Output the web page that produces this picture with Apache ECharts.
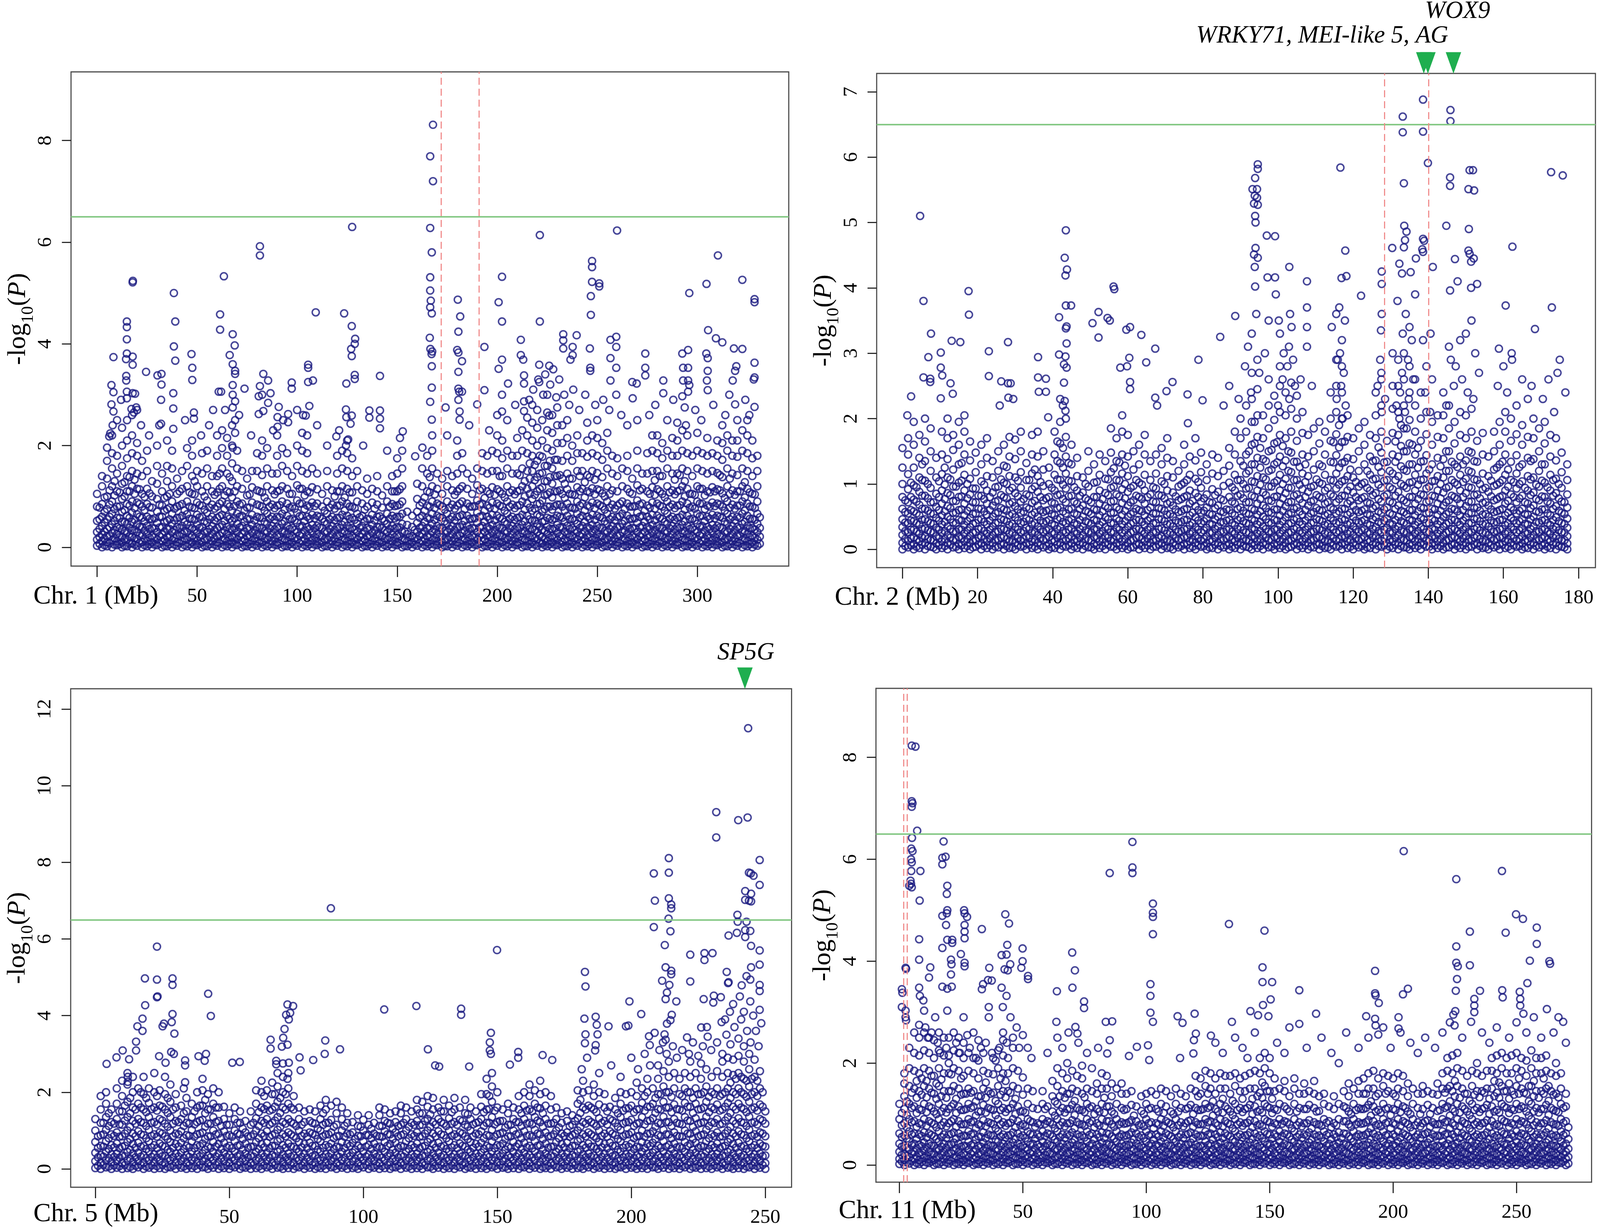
<!DOCTYPE html>
<html><head><meta charset="utf-8">
<script src="https://cdn.jsdelivr.net/npm/echarts@6/dist/echarts.min.js"></script>
<style>html,body{margin:0;padding:0;background:#fff;overflow:hidden}#c{width:100vw;height:100vh}</style>
</head><body><div id="c"></div>
<script>
// ---------- DATA (position in Mb, -log10(P)) ----------
// background columns: [position, value, value, ...]
const chr1Cols = [
[0,.03,.15,.3,.52,.8,1.05],[2.5,0,.12,.25,.42,.6,.85,1.2,1.4],[5,.02,.1,.22,.36,.55,.75,1.0,1.35,1.7,1.96],[7.5,0,.14,.28,.45,.66,.9,1.2,1.55,1.85,2.2],
[10,.04,.12,.26,.4,.58,.8,1.1,1.45,1.8],[12.5,0,.1,.2,.35,.5,.7,.95,1.25,1.6,2.0,2.35],[15,.02,.15,.3,.46,.62,.85,1.1,1.4,1.75,2.1,2.5],[17.5,0,.08,.2,.33,.5,.68,.9,1.2,1.5,1.85,2.2,2.6],
[20,.03,.16,.3,.45,.65,.88,1.15,1.45,1.8,2.05],[22.5,0,.1,.24,.4,.58,.8,1.05,1.4,1.7],[25,.02,.12,.26,.42,.6,.85,1.15,1.5,1.9],[27.5,0,.1,.22,.38,.55,.78,1.0,1.3],
[30,.04,.15,.3,.48,.7,.95,1.25,1.6,2.0],[32.5,0,.12,.25,.4,.6,.82,1.1,1.45],[35,.02,.1,.2,.36,.52,.75,1.0,1.3,1.6],[37.5,0,.14,.3,.46,.66,.9,1.2,1.55,1.9],
[40,.03,.1,.24,.4,.58,.8,1.05,1.35],[42.5,0,.12,.26,.42,.62,.85,1.15,1.5],[45,.02,.15,.3,.45,.65,.9,1.2,1.6,1.95],[47.5,0,.1,.22,.38,.56,.78,1.05,1.4,1.8,2.1],
[50,.04,.13,.28,.44,.64,.88,1.2,1.5],[52.5,0,.1,.24,.4,.6,.82,1.1,1.45,1.85],[55,.02,.15,.3,.48,.68,.92,1.2,1.55,1.9],[57.5,0,.12,.26,.42,.6,.84,1.1,1.4],
[60,.03,.1,.22,.38,.58,.8,1.08,1.4,1.8,2.2],[62.5,0,.14,.28,.44,.64,.9,1.2,1.55,1.95,2.3],[65,.02,.12,.26,.4,.6,.85,1.1,1.45,1.8,2.15],[67.5,0,.1,.2,.35,.52,.72,.98,1.3,1.65,2.0,2.4],
[70,.04,.15,.3,.46,.66,.9,1.2,1.55,1.9],[72.5,0,.12,.26,.42,.62,.86,1.15,1.5],[75,.02,.1,.22,.38,.56,.78,1.02,1.35],[77.5,0,.13,.28,.44,.64,.88,1.18,1.5],
[80,.03,.12,.25,.4,.6,.84,1.12,1.5,1.85],[82.5,0,.1,.22,.38,.58,.8,1.08,1.42,1.8,2.1],[85,.02,.15,.3,.46,.66,.9,1.2,1.55,1.95],[87.5,0,.12,.26,.42,.6,.84,1.12,1.45],
[90,.04,.1,.24,.4,.6,.82,1.1,1.45,1.8,2.2],[92.5,0,.14,.3,.46,.66,.9,1.2,1.6,1.95],[95,.02,.12,.26,.42,.62,.86,1.15,1.5,1.85],[97.5,0,.1,.22,.38,.56,.8,1.05,1.4],
[100,.03,.15,.3,.48,.68,.92,1.22,1.6,2.0],[102.5,0,.12,.26,.42,.62,.86,1.15,1.5,1.9,2.25],[105,.02,.1,.24,.4,.6,.82,1.1,1.45,1.85,2.2],[107.5,0,.13,.28,.44,.64,.88,1.18,1.55],
[110,.04,.12,.26,.42,.62,.86,1.14,1.45],[112.5,0,.1,.22,.38,.56,.8,1.05],[115,.02,.15,.3,.46,.66,.9,1.2,1.5],[117.5,0,.12,.26,.42,.6,.84,1.12],
[120,.03,.1,.24,.4,.58,.82,1.1,1.45,1.8],[122.5,0,.14,.28,.44,.64,.9,1.2,1.55,1.9],[125,.02,.12,.26,.42,.62,.86,1.15,1.5,1.85,2.1],[127.5,0,.1,.22,.38,.58,.8,1.08,1.4,1.75],
[130,.04,.15,.3,.46,.66,.9,1.2,1.5],[132.5,0,.12,.26,.42,.62,.86,1.12],[135,.02,.1,.22,.38,.56,.8,1.05,1.35],[137.5,0,.13,.28,.44,.64,.88,1.15],
[140,.03,.12,.25,.4,.6,.84,1.1,1.4],[142.5,0,.1,.22,.38,.56,.78,1.02],[145,.02,.15,.3,.46,.66,.9,1.2],[147.5,0,.12,.26,.42,.62,.85,1.1,1.4],
[150,.04,.1,.24,.4,.6,.82,1.1,1.45,1.75],[152.5,0,.14,.3,.46,.66,.9,1.2,1.55,1.9],[155,.02,.12,.26,.44,.7],[157.5,0,.1,.22,.4,.62],
[160,.03,.15,.3,.48,.7,.95,1.25],[162.5,0,.12,.26,.42,.62,.88,1.2,1.55],[165,.02,.1,.22,.38,.58,.82,1.1,1.45,1.8],[167.5,0,.14,.3,.46,.66,.9,1.2,1.55,1.9,2.2],
[170,.04,.12,.26,.42,.62,.86,1.15,1.45],[172.5,0,.1,.22,.38,.58,.8,1.05,1.35],[175,.02,.15,.3,.46,.66,.9,1.2,1.5],[177.5,0,.12,.26,.42,.6,.84,1.12,1.4],
[180,.03,.1,.24,.4,.6,.82,1.1,1.45,1.8,2.1],[182.5,0,.14,.28,.44,.64,.9,1.2,1.55,1.85],[185,.02,.12,.26,.42,.62,.86,1.15,1.45],[187.5,0,.1,.22,.38,.56,.8,1.05,1.35],
[190,.04,.15,.3,.48,.68,.92,1.22,1.55],[192.5,0,.12,.26,.42,.62,.86,1.15,1.5,1.85],[195,.02,.1,.24,.4,.6,.82,1.1,1.45,1.8],[197.5,0,.13,.28,.44,.64,.88,1.18,1.5,1.9],
[200,.03,.12,.26,.42,.62,.86,1.14,1.5,1.85,2.2],[202.5,0,.1,.22,.38,.56,.8,1.05,1.4,1.75,2.1],[205,.02,.15,.3,.46,.66,.9,1.2,1.55,1.9],[207.5,0,.12,.26,.42,.6,.84,1.12,1.45,1.8],
[210,.04,.1,.24,.4,.58,.82,1.1,1.45,1.8,2.15],[212.5,0,.14,.28,.44,.64,.9,1.2,1.55,1.9,2.3],[215,.02,.12,.26,.42,.62,.86,1.15,1.5,1.85,2.2,2.55],[217.5,0,.1,.22,.36,.52,.72,.95,1.2,1.5,1.8,2.1,2.45,2.8],
[220,.03,.15,.3,.46,.64,.85,1.1,1.38,1.7,2.0,2.35,2.7],[222.5,0,.08,.2,.34,.5,.7,.92,1.18,1.46,1.78,2.1,2.5],[225,.02,.12,.26,.4,.58,.8,1.04,1.3,1.6,1.95,2.3,2.65,3.0],[227.5,0,.1,.22,.36,.54,.74,.98,1.25,1.55,1.9,2.25,2.6],
[230,.04,.14,.28,.44,.62,.84,1.1,1.4,1.72,2.05,2.4,2.75],[232.5,0,.1,.24,.4,.58,.8,1.05,1.35,1.7,2.05,2.4],[235,.02,.12,.26,.42,.62,.86,1.14,1.45,1.8,2.15,2.5],[237.5,0,.1,.22,.38,.56,.78,1.04,1.35,1.7,2.0],
[240,.03,.15,.3,.46,.66,.9,1.18,1.5,1.85,2.2],[242.5,0,.12,.26,.42,.62,.86,1.15,1.5,1.85],[245,.02,.1,.24,.4,.6,.82,1.1,1.42,1.78,2.1,2.45],[247.5,0,.14,.28,.44,.64,.88,1.16,1.5,1.85,2.2],
[250,.04,.12,.26,.42,.62,.86,1.14,1.46,1.8,2.15,2.5],[252.5,0,.1,.22,.38,.58,.8,1.06,1.38,1.72,2.05],[255,.02,.15,.3,.46,.66,.9,1.2,1.55,1.9,2.25],[257.5,0,.12,.26,.42,.6,.84,1.12,1.45,1.8],
[260,.03,.1,.24,.4,.6,.82,1.1,1.4,1.75],[262.5,0,.14,.3,.46,.66,.9,1.2,1.55],[265,.02,.12,.26,.42,.62,.86,1.15,1.5,1.8],[267.5,0,.1,.22,.38,.56,.8,1.05,1.35],
[270,.04,.15,.3,.48,.68,.92,1.22,1.55,1.9],[272.5,0,.12,.26,.42,.62,.86,1.15,1.45],[275,.02,.1,.24,.4,.6,.82,1.1,1.45,1.85],[277.5,0,.13,.28,.44,.64,.88,1.18,1.5,1.9,2.2],
[280,.03,.12,.26,.42,.62,.86,1.14,1.5,1.85,2.2],[282.5,0,.1,.22,.38,.56,.8,1.05,1.4,1.75,2.05],[285,.02,.15,.3,.46,.66,.9,1.2,1.55,1.9],[287.5,0,.12,.26,.42,.6,.84,1.12,1.45,1.8,2.15],
[290,.04,.1,.24,.4,.58,.82,1.1,1.45,1.8,2.1,2.45],[292.5,0,.14,.28,.44,.64,.9,1.2,1.55,1.9,2.3],[295,.02,.12,.26,.42,.62,.86,1.15,1.5,1.85,2.2],[297.5,0,.1,.22,.38,.56,.8,1.05,1.4,1.8],
[300,.03,.15,.3,.46,.66,.9,1.2,1.55,1.9,2.25],[302.5,0,.12,.26,.42,.62,.86,1.15,1.5,1.85],[305,.02,.1,.24,.4,.6,.82,1.1,1.45,1.8,2.15],[307.5,0,.13,.28,.44,.64,.88,1.18,1.5,1.85],
[310,.04,.12,.26,.42,.62,.86,1.14,1.46,1.8,2.1],[312.5,0,.1,.22,.38,.58,.8,1.06,1.38,1.72,2.05,2.4],[315,.02,.15,.3,.46,.66,.9,1.2,1.55,1.9,2.2],[317.5,0,.12,.26,.42,.6,.84,1.12,1.45,1.8,2.1],
[320,.03,.1,.24,.4,.6,.82,1.1,1.42,1.78,2.1],[322.5,0,.14,.3,.46,.66,.9,1.2,1.55,1.9,2.3],[325,.02,.12,.26,.42,.62,.86,1.15,1.5,1.85,2.2,2.5],[327.5,0,.1,.22,.38,.56,.8,1.05,1.4,1.75,2.1],
[330,.03,.15,.3,.46,.66,.9,1.2,1.5,1.8]
];
const chr1Fill = [
[1.25,.07,.2,.36,.55,.78],[3.75,.04,.17,.31,.49,.7,.98],[6.25,.08,.22,.39,.6,.84,1.12],[8.75,.05,.18,.34,.52,.75,1.02,1.3],[11.25,.06,.2,.37,.57,.8,1.08],[13.75,.03,.16,.32,.5,.73,1.0,1.28],
[16.25,.07,.21,.38,.58,.82,1.1,1.38],[18.75,.05,.18,.35,.54,.77,1.05,1.33],[21.25,.08,.23,.4,.6,.85,1.14],[23.75,.04,.17,.33,.51,.73,.99],[26.25,.06,.19,.36,.56,.79,1.06],[28.75,.05,.2,.37,.57],
[31.25,.07,.22,.39,.6,.84],[33.75,.03,.16,.31,.5,.72,.97],[36.25,.06,.2,.36,.55,.78,1.05],[38.75,.05,.18,.34,.53,.76],[41.25,.08,.22,.38,.58,.82,1.1],[43.75,.04,.17,.32,.5,.72],
[46.25,.06,.2,.37,.56,.8,1.08],[48.75,.05,.19,.35,.54,.77,1.04,1.3],[51.25,.07,.21,.38,.59,.83],[53.75,.03,.16,.32,.51,.74,1.0],[56.25,.06,.2,.36,.55,.78],[58.75,.05,.18,.34,.53,.76,1.03],
[61.25,.08,.23,.4,.61,.86,1.15,1.45],[63.75,.04,.17,.33,.52,.75,1.02],[66.25,.06,.19,.36,.56,.8,1.08,1.38],[68.75,.05,.2,.37,.57,.81,1.1],[71.25,.07,.22,.39,.6,.84],[73.75,.03,.16,.31,.5,.72],
[76.25,.06,.2,.36,.55,.78,1.04],[78.75,.05,.18,.34,.53],[81.25,.08,.22,.38,.58,.82,1.1],[83.75,.04,.17,.32,.5,.72,.98],[86.25,.06,.2,.37,.56,.8],[88.75,.05,.19,.35,.54,.77,1.04],
[91.25,.07,.21,.38,.59,.83,1.12],[93.75,.03,.16,.32,.51,.74],[96.25,.06,.2,.36,.55,.78,1.05],[98.75,.05,.18,.34,.53,.76],[101.25,.08,.23,.4,.61,.86,1.15],[103.75,.04,.17,.33,.52,.75,1.02],
[106.25,.06,.19,.36,.56,.8,1.08],[108.75,.05,.2,.37,.57,.81],[111.25,.07,.22,.39,.6],[113.75,.03,.16,.31,.5,.72],[116.25,.06,.2,.36,.55,.78],[118.75,.05,.18,.34,.53,.76,1.0],
[121.25,.08,.22,.38,.58,.82,1.1],[123.75,.04,.17,.32,.5,.72,.98],[126.25,.06,.2,.37,.56,.8,1.08],[128.75,.05,.19,.35,.54,.77],[131.25,.07,.21,.38,.59],[133.75,.03,.16,.32,.51,.74],
[136.25,.06,.2,.36,.55],[138.75,.05,.18,.34,.53,.76],[141.25,.08,.23,.4,.61],[143.75,.04,.17,.33,.52],[146.25,.06,.19,.36,.56,.8],[148.75,.05,.2,.37,.57,.81,1.1],
[151.25,.07,.22,.39,.6,.84,1.14],[153.75,.03,.16,.31],[156.25,.06,.2],[158.75,.05,.18,.34],[161.25,.08,.22,.38,.58,.82],[163.75,.04,.17,.32,.5,.72,.98],
[166.25,.06,.2,.37,.56,.8,1.08,1.38],[168.75,.05,.19,.35,.54,.77,1.04],[171.25,.07,.21,.38,.59,.83],[173.75,.03,.16,.32,.51,.74],[176.25,.06,.2,.36,.55,.78],[178.75,.05,.18,.34,.53,.76,1.03],
[181.25,.08,.23,.4,.61,.86,1.15],[183.75,.04,.17,.33,.52,.75],[186.25,.06,.19,.36,.56,.8],[188.75,.05,.2,.37,.57,.81],[191.25,.07,.22,.39,.6,.84,1.12],[193.75,.03,.16,.31,.5,.72,.97],
[196.25,.06,.2,.36,.55,.78,1.05],[198.75,.05,.18,.34,.53,.76,1.03],[201.25,.08,.22,.38,.58,.82,1.1,1.4],[203.75,.04,.17,.32,.5,.72,.98],[206.25,.06,.2,.37,.56,.8,1.08],[208.75,.05,.19,.35,.54,.77,1.04],
[211.25,.07,.21,.38,.59,.83,1.12,1.42],[213.75,.03,.16,.32,.51,.74,1.0,1.3],[216.25,.06,.2,.36,.55,.78,1.05,1.35,1.65],[218.75,.05,.18,.34,.53,.76,1.03,1.32,1.62],[221.25,.08,.23,.4,.61,.86,1.15,1.45,1.8],[223.75,.04,.17,.33,.52,.75,1.02,1.3,1.6],
[226.25,.06,.19,.36,.56,.8,1.08,1.38,1.7],[228.75,.05,.2,.37,.57,.81,1.1,1.4,1.72],[231.25,.07,.22,.39,.6,.84,1.12,1.42],[233.75,.03,.16,.31,.5,.72,.97,1.25],[236.25,.06,.2,.36,.55,.78,1.05,1.35],[238.75,.05,.18,.34,.53,.76,1.03],
[241.25,.08,.22,.38,.58,.82,1.1,1.4],[243.75,.04,.17,.32,.5,.72,.98,1.28],[246.25,.06,.2,.37,.56,.8,1.08,1.38],[248.75,.05,.19,.35,.54,.77,1.04,1.33],[251.25,.07,.21,.38,.59,.83,1.12],[253.75,.03,.16,.32,.51,.74,1.0],
[256.25,.06,.2,.36,.55,.78,1.05],[258.75,.05,.18,.34,.53,.76],[261.25,.08,.23,.4,.61,.86],[263.75,.04,.17,.33,.52,.75],[266.25,.06,.19,.36,.56,.8,1.08],[268.75,.05,.2,.37,.57,.81],
[271.25,.07,.22,.39,.6,.84,1.12],[273.75,.03,.16,.31,.5,.72],[276.25,.06,.2,.36,.55,.78,1.05],[278.75,.05,.18,.34,.53,.76,1.03,1.32],[281.25,.08,.22,.38,.58,.82,1.1,1.4],[283.75,.04,.17,.32,.5,.72,.98],
[286.25,.06,.2,.37,.56,.8,1.08],[288.75,.05,.19,.35,.54,.77,1.04,1.33],[291.25,.07,.21,.38,.59,.83,1.12,1.42],[293.75,.03,.16,.32,.51,.74,1.0,1.3],[296.25,.06,.2,.36,.55,.78,1.05],[298.75,.05,.18,.34,.53,.76,1.03],
[301.25,.08,.23,.4,.61,.86,1.15],[303.75,.04,.17,.33,.52,.75,1.02],[306.25,.06,.19,.36,.56,.8,1.08],[308.75,.05,.2,.37,.57,.81,1.1],[311.25,.07,.22,.39,.6,.84,1.12,1.42],[313.75,.03,.16,.31,.5,.72,.97],
[316.25,.06,.2,.36,.55,.78,1.05,1.35],[318.75,.05,.18,.34,.53,.76,1.03],[321.25,.08,.22,.38,.58,.82,1.1],[323.75,.04,.17,.32,.5,.72,.98,1.28],[326.25,.06,.2,.37,.56,.8,1.08],[328.75,.05,.19,.35,.54,.77,1.04],
[331.25,.07,.21,.38,.59]
];
// individually read points: [position, value]
const chr1Top = [
[167.9,8.31],[166.5,7.69],[167.9,7.2],[166.5,6.28],[167.3,5.8],[166.5,5.31],[166.5,5.05],[166.8,4.85],[166.5,4.72],[167.3,4.6],[166.3,4.12],[166.6,3.9],[167.5,3.85],[167.2,3.8],[167.3,3.56],[167.3,3.14],[166.5,2.86],[167.3,2.51],
[127.5,6.3],[81.4,5.92],[81.4,5.74],[63.4,5.33],[17.8,5.21],[17.9,5.24],[38.4,5.0],[39.1,4.44],[38.4,3.95],[39.1,3.67],[38.1,3.03],[38.1,2.73],[38.1,2.33],
[61.5,4.58],[61.5,4.28],[109.3,4.62],[123.5,4.6],[127.3,4.35],[129,4.1],[128.8,4.0],[127,3.9],[127.3,3.76],[128.8,3.39],[128.8,3.31],[124.6,3.22],[124.4,2.71],[124.6,2.56],[127.3,2.59],[126.7,2.43],[125.5,2.12],[124.4,2.0],
[141.4,3.37],[141.4,2.69],[141.4,2.53],[141.4,2.34],[136.1,2.69],[136.1,2.55],
[14.9,4.44],[14.9,4.33],[14.9,4.09],[14.9,3.81],[17.8,3.75],[14.5,3.7],[17.8,3.59],[14.6,3.37],[14.6,3.28],[14.9,3.06],[17.8,3.03],[14.9,2.93],[19,3.02],[17.2,2.72],[18.4,2.65],[19.6,2.75],
[8.2,3.74],[7.2,3.19],[8.2,3.05],[7.2,2.81],[8.2,2.67],[7.8,2.4],[6.6,2.24],[6.1,2.18],
[24.5,3.45],[30.2,3.38],[32.2,3.41],[32.2,3.2],[32,2.9],[32,2.43],[31.1,2.4],[47.2,3.8],[47.6,3.53],[47.6,3.29],[48.4,2.65],[48.4,2.53],
[67.8,4.19],[68.8,3.97],[67.8,3.6],[69,3.47],[69,3.41],[67.8,3.19],[67.8,3.0],[69,2.87],[67.8,2.75],[69,2.5],[69,2.25],[67.8,1.96],
[66.3,3.78],[62,3.06],[60.8,3.06],[73.7,3.12],[83.1,3.41],[81.4,3.17],[85.5,3.28],[86.7,3.03],[80.8,2.97],[82.5,3.0],[85.5,2.84],[83.1,2.68],[80.8,2.62],
[90.8,2.76],[90.2,2.56],[90.2,2.37],[95.5,2.62],[95.5,2.46],[97.3,3.24],[97.3,3.12],[105.5,3.59],[105.5,3.53],[105.5,3.25],[107.9,3.28],[106.1,2.78],[104.3,2.59],
[119.6,2.18],[152.8,2.28],[151.4,2.15],[162.6,1.96],[159,1.79],
[221.3,6.14],[259.9,6.23],[310.3,5.74],[247.4,5.63],[247.4,5.51],[247.4,5.22],[251,5.19],[251,5.13],[246.8,4.94],[246.8,4.57],[304.6,5.18],[296,5.0],[322.5,5.26],[328.6,4.88],[328.6,4.82],
[202.4,5.32],[200.7,4.82],[202.4,4.44],[202.4,3.69],[200.7,3.51],[202.4,3.0],[202.4,2.67],[221.3,4.44],
[180.3,4.87],[181.5,4.54],[180.6,4.24],[180,3.88],[180.6,3.83],[182.4,3.66],[180.6,3.45],[180.6,3.12],[181,3.06],[180.6,2.9],[182.4,3.06],[181.2,2.67],[181.2,2.51],
[193.6,3.94],[211.8,4.08],[211.8,3.78],[213,3.69],[213.4,3.38],[213.4,3.22],[213.4,2.87],[213.4,2.68],
[233,4.19],[233,4.07],[233,3.91],[239.7,4.17],[237.7,3.94],[237.7,3.78],[236.6,3.69],[246.3,3.91],[246.5,3.53],[246.5,3.47],
[256.6,4.08],[259.5,4.14],[259.5,3.94],[256.6,3.72],[259.5,3.53],[256.6,3.28],[259.5,3.0],
[305.4,4.27],[309.3,4.11],[312.5,4.03],[304.5,3.81],[305.2,3.72],[305.2,3.47],[304.8,3.28],[305.2,3.09],
[318.3,3.91],[322.5,3.9],[292.5,3.81],[295.4,3.88],[292.9,3.53],[295.4,3.53],[292.9,3.28],[295.4,3.28],[296,3.19],[295.4,3.06],[292.5,2.97],[293.7,2.75],[294.3,2.4],
[274,3.81],[274,3.53],[274,3.38],[283,3.28],[283,3.03],[267.5,3.25],[269.7,3.22],[267.7,2.93],
[328.6,3.63],[328.6,3.34],[328.2,3.3],[328.6,2.76],[319.5,3.56],[318.9,3.47],[317.7,3.28],[318.9,2.81],
[226,3.57],[221,3.59],[221,3.25],[226,2.59],[205.4,3.22],[193.6,3.09],[190,2.81],[174.2,2.75],
[216,2.9],[218,3.1],[220.5,3.3],[223,3.0],[224,3.4],[226.5,3.2],[228,3.5],[229.5,2.95],[231,3.3],[233.5,3.0],[236,2.8],[238,3.1],[241,2.7],[244,3.0],[249,2.8],[253,2.9],[256,2.7],
[262,2.6],[265,2.4],[270,2.5],[276,2.6],[279,2.8],[285,2.5],[288,2.9],[299,2.7],[302,2.5],[308,2.8],[314,2.6],[316,3.0],[320,2.5],[324,2.9],[326,2.6],[200,2.6],[205,2.5],[209,2.8],
[196,2.3],[186,2.4],[175,2.2],[10,2.5],[12,2.9],[20,2.7],[22,2.4],[26,2.2],[35,2.1],[44,2.5],[52,2.2],[56,2.4],[58,2.7],[64,2.7],[71,2.6],[77,2.2],[88,2.3],[93,2.5],[100,2.7],
[103,2.6],[110,2.4],[115,2.0],[121,2.3],[133,2.0],[145,1.9]
];

const chr2Cols = [
[0,0,.1,.22,.34,.46,.62,.8,1.0,1.25,1.55],[1.5,.03,.13,.26,.4,.55,.72,.92,1.15,1.45,1.7],[3,0,.08,.18,.3,.43,.58,.76,.98,1.25,1.6,1.95],[4.5,.02,.12,.24,.38,.52,.68,.88,1.1,1.4,1.75],
[6,0,.1,.2,.32,.46,.62,.82,1.05,1.35,1.65,2.0],[7.5,.04,.14,.27,.4,.55,.72,.94,1.2,1.5,1.85],[9,0,.09,.2,.33,.48,.65,.85,1.1,1.4],[10.5,.02,.12,.25,.38,.52,.7,.9,1.15,1.45,1.8],
[12,0,.1,.22,.35,.5,.66,.86,1.1,1.38,1.7,2.0],[13.5,.03,.14,.27,.41,.56,.74,.96,1.22,1.52,1.75],[15,0,.08,.19,.31,.45,.6,.8,1.02,1.3,1.6,1.95],[16.5,.02,.12,.24,.37,.52,.7,.9,1.14,1.45,1.8,2.05],
[18,0,.1,.21,.34,.48,.64,.84,1.08,1.36,1.65],[19.5,.04,.13,.26,.4,.55,.72,.93,1.18,1.48],[21,0,.09,.2,.32,.46,.62,.82,1.04,1.3,1.6],[22.5,.02,.12,.24,.38,.53,.7,.9,1.12,1.4,1.7],
[24,0,.1,.22,.35,.5,.67,.87,1.1,1.35],[25.5,.03,.14,.27,.41,.57,.75,.96,1.2,1.5],[27,0,.08,.19,.31,.45,.61,.8,1.02,1.28,1.6],[28.5,.02,.12,.24,.37,.52,.7,.9,1.12,1.42,1.72],
[30,0,.1,.21,.34,.49,.66,.86,1.1,1.38,1.68],[31.5,.04,.13,.26,.4,.56,.73,.94,1.18,1.5,1.8],[33,0,.09,.2,.33,.47,.64,.84,1.06,1.32],[34.5,.02,.12,.25,.38,.53,.71,.92,1.16,1.45,1.75],
[36,0,.1,.22,.35,.5,.67,.88,1.12,1.42,1.8],[37.5,.03,.14,.27,.41,.57,.75,.97,1.22,1.5],[39,0,.08,.19,.31,.45,.6,.8,1.0,1.25],[40.5,.02,.12,.24,.37,.52,.7,.9,1.14,1.45,1.8],
[42,0,.1,.21,.34,.48,.64,.84,1.06,1.32,1.62,1.95,2.3],[43.5,.04,.13,.26,.4,.55,.72,.93,1.16,1.42,1.72,2.0],[45,0,.09,.2,.32,.46,.62,.82,1.04,1.3,1.6],[46.5,.02,.12,.24,.38,.53,.7,.9,1.12,1.4],
[48,0,.1,.22,.35,.5,.67,.87,1.1],[49.5,.03,.14,.27,.41,.57,.75,.96,1.2,1.5],[51,0,.08,.19,.31,.45,.61,.8,1.02,1.3],[52.5,.02,.12,.24,.37,.52,.7,.9,1.14,1.45],
[54,0,.1,.21,.34,.49,.66,.86,1.08,1.35],[55.5,.04,.13,.26,.4,.56,.73,.94,1.18,1.48,1.85],[57,0,.09,.2,.33,.47,.64,.84,1.06,1.35,1.7],[58.5,.02,.12,.25,.38,.53,.71,.92,1.16,1.45,1.8,2.05],
[60,0,.1,.22,.35,.5,.67,.88,1.12,1.42,1.75],[61.5,.03,.14,.27,.41,.57,.75,.97,1.22,1.5],[63,0,.08,.19,.31,.45,.6,.8,1.02,1.3,1.6],[64.5,.02,.12,.24,.37,.52,.7,.9,1.14,1.45,1.75],
[66,0,.1,.21,.34,.48,.64,.84,1.06,1.35],[67.5,.04,.13,.26,.4,.55,.72,.93,1.16,1.45],[69,0,.09,.2,.32,.46,.62,.82,1.04,1.3,1.55],[70.5,.02,.12,.24,.38,.53,.7,.9,1.12,1.4,1.7],
[72,0,.1,.22,.35,.5,.67,.87,1.1,1.35],[73.5,.03,.14,.27,.41,.57,.75,.96,1.2],[75,0,.08,.19,.31,.45,.61,.8,1.02,1.3,1.6],[76.5,.02,.12,.24,.37,.52,.7,.9,1.14,1.42],
[78,0,.1,.21,.34,.49,.66,.86,1.08,1.36,1.7],[79.5,.04,.13,.26,.4,.56,.73,.94,1.18,1.48],[81,0,.09,.2,.33,.47,.64,.84,1.06,1.3],[82.5,.02,.12,.25,.38,.53,.71,.92,1.16,1.45],
[84,0,.1,.22,.35,.5,.67,.88,1.12,1.4],[85.5,.03,.14,.27,.41,.57,.75,.97,1.2],[87,0,.08,.19,.31,.45,.6,.8,1.02,1.28,1.55],[88.5,.02,.12,.24,.37,.52,.7,.9,1.14,1.45,1.8],
[90,0,.1,.21,.34,.48,.64,.84,1.06,1.35,1.7,2.0],[91.5,.04,.13,.26,.4,.55,.72,.93,1.16,1.45,1.8,2.2],[93,0,.09,.2,.32,.46,.62,.82,1.04,1.3,1.6,1.95,2.3,2.7],[94.5,.02,.12,.24,.38,.53,.7,.9,1.12,1.4,1.72,2.05,2.45,2.9],
[96,0,.1,.22,.35,.5,.67,.87,1.1,1.38,1.7,2.05],[97.5,.03,.14,.27,.41,.57,.75,.96,1.2,1.5,1.85,2.2,2.6],[99,0,.08,.19,.31,.45,.61,.8,1.02,1.3,1.62,1.98,2.35],[100.5,.02,.12,.24,.37,.52,.7,.9,1.14,1.42,1.75,2.1,2.5,2.8],
[102,0,.1,.21,.34,.49,.66,.86,1.08,1.36,1.7,2.05,2.4],[103.5,.04,.13,.26,.4,.56,.73,.94,1.18,1.48,1.8,2.15,2.55],[105,0,.09,.2,.33,.47,.64,.84,1.06,1.34,1.66,2.0,2.35],[106.5,.02,.12,.25,.38,.53,.71,.92,1.16,1.45,1.78,2.1],
[108,0,.1,.22,.35,.5,.67,.88,1.12,1.42,1.75],[109.5,.03,.14,.27,.41,.57,.75,.97,1.22,1.5,1.85],[111,0,.08,.19,.31,.45,.6,.8,1.02,1.3,1.62,1.95],[112.5,.02,.12,.24,.37,.52,.7,.9,1.14,1.45,1.8],
[114,0,.1,.21,.34,.48,.64,.84,1.06,1.34,1.66,2.0,2.4],[115.5,.04,.13,.26,.4,.55,.72,.93,1.16,1.44,1.76,2.1,2.5,2.9],[117,0,.09,.2,.32,.46,.62,.82,1.04,1.32,1.64,2.0,2.4,2.8],[118.5,.02,.12,.24,.38,.53,.7,.9,1.12,1.4,1.72,2.05],
[120,0,.1,.22,.35,.5,.67,.87,1.1,1.38,1.7],[121.5,.03,.14,.27,.41,.57,.75,.96,1.2,1.5,1.85],[123,0,.08,.19,.31,.45,.61,.8,1.02,1.3,1.6,1.95],[124.5,.02,.12,.24,.37,.52,.7,.9,1.14,1.42,1.75],
[126,0,.1,.21,.34,.49,.66,.86,1.08,1.36,1.7,2.05,2.4],[127.5,.04,.13,.26,.4,.56,.73,.94,1.18,1.48,1.8,2.2,2.6],[129,0,.09,.2,.33,.47,.64,.84,1.06,1.34,1.66],[130.5,.02,.12,.25,.38,.53,.71,.92,1.16,1.45,1.78,2.15,2.5],
[132,0,.1,.22,.35,.5,.67,.88,1.12,1.42,1.75,2.1,2.5,2.9],[133.5,.03,.14,.27,.41,.57,.75,.97,1.22,1.5,1.85,2.2,2.6,3.0],[135,0,.08,.19,.31,.45,.6,.8,1.02,1.3,1.62,1.98,2.4,2.8],[136.5,.02,.12,.24,.37,.52,.7,.9,1.14,1.45,1.8,2.2,2.6],
[138,0,.1,.21,.34,.48,.64,.84,1.06,1.34,1.66,2.0,2.4],[139.5,.04,.13,.26,.4,.55,.72,.93,1.16,1.44,1.76,2.1],[141,0,.09,.2,.32,.46,.62,.82,1.04,1.3,1.6,1.95],[142.5,.02,.12,.24,.38,.53,.7,.9,1.12,1.4,1.72,2.05],
[144,0,.1,.22,.35,.5,.67,.87,1.1,1.38,1.7,2.05,2.4],[145.5,.03,.14,.27,.41,.57,.75,.96,1.2,1.5,1.85,2.2],[147,0,.08,.19,.31,.45,.61,.8,1.02,1.3,1.62,1.95],[148.5,.02,.12,.24,.37,.52,.7,.9,1.14,1.42,1.75,2.1],
[150,0,.1,.21,.34,.49,.66,.86,1.08,1.36,1.7,2.05],[151.5,.04,.13,.26,.4,.56,.73,.94,1.18,1.48,1.8,2.15],[153,0,.09,.2,.33,.47,.64,.84,1.06,1.34,1.66],[154.5,.02,.12,.25,.38,.53,.71,.92,1.16,1.45,1.78],
[156,0,.1,.22,.35,.5,.67,.88,1.12,1.42],[157.5,.03,.14,.27,.41,.57,.75,.97,1.22,1.5,1.8],[159,0,.08,.19,.31,.45,.6,.8,1.02,1.3,1.6,1.95],[160.5,.02,.12,.24,.37,.52,.7,.9,1.14,1.45,1.8,2.1],
[162,0,.1,.21,.34,.48,.64,.84,1.06,1.34,1.66,2.0],[163.5,.04,.13,.26,.4,.55,.72,.93,1.16,1.44,1.76],[165,0,.09,.2,.32,.46,.62,.82,1.04,1.3,1.6,1.9],[166.5,.02,.12,.24,.38,.53,.7,.9,1.12,1.4,1.72],
[168,0,.1,.22,.35,.5,.67,.87,1.1,1.38,1.7,2.0],[169.5,.03,.14,.27,.41,.57,.75,.96,1.2,1.5,1.85],[171,0,.08,.19,.31,.45,.61,.8,1.02,1.3,1.62,1.95],[172.5,.02,.12,.24,.37,.52,.7,.9,1.14,1.42,1.75],
[174,0,.1,.21,.34,.49,.66,.86,1.08,1.36,1.7],[175.5,.04,.13,.26,.4,.56,.73,.94,1.18,1.48],[177,0,.09,.2,.33,.47,.64,.84,1.06,1.3]
];
const chr2Fill = [
[.75,.05,.16,.28,.41,.57,.75],[2.25,.06,.17,.3,.44,.6,.8,1.02],[3.75,.04,.15,.27,.4,.55,.73,.95],[5.25,.07,.18,.31,.45,.62,.82,1.06,1.3],[6.75,.05,.16,.29,.43,.59,.78,1.0],[8.25,.03,.14,.26,.39,.54,.72],
[9.75,.06,.17,.3,.44,.6,.8,1.04],[11.25,.05,.16,.28,.42,.58,.77,.99,1.25],[12.75,.07,.18,.31,.46,.63,.83,1.07],[14.25,.04,.15,.27,.4,.56,.74,.96],[15.75,.06,.17,.3,.44,.61,.81,1.05,1.32],[17.25,.05,.16,.29,.43,.59,.78,1.0],
[18.75,.03,.14,.26,.39,.54,.72,.93],[20.25,.07,.18,.31,.45,.62,.82],[21.75,.05,.16,.28,.42,.58,.77,.99],[23.25,.06,.17,.3,.44,.6,.8],[24.75,.04,.15,.27,.4,.55,.73,.95],[26.25,.07,.18,.31,.46,.63,.83,1.07],
[27.75,.05,.16,.29,.43,.59,.78,1.0,1.26],[29.25,.03,.14,.26,.39,.54,.72,.94],[30.75,.06,.17,.3,.44,.61,.81,1.05],[32.25,.05,.16,.28,.42,.58,.77],[33.75,.07,.18,.31,.45,.62,.82,1.06],[35.25,.04,.15,.27,.4,.56,.74,.96,1.22],
[36.75,.06,.17,.3,.44,.6,.8,1.03],[38.25,.05,.16,.29,.43,.59,.78],[39.75,.03,.14,.26,.39,.54,.72,.94],[41.25,.07,.18,.31,.46,.63,.83,1.07,1.35,1.65],[42.75,.05,.16,.28,.42,.58,.77,.99,1.25,1.55],[44.25,.06,.17,.3,.44,.61,.81,1.05,1.32],
[45.75,.04,.15,.27,.4,.55,.73,.95],[47.25,.07,.18,.31,.45,.62,.82],[48.75,.05,.16,.29,.43,.59,.78,1.0],[50.25,.03,.14,.26,.39,.54,.72],[51.75,.06,.17,.3,.44,.6,.8,1.03],[53.25,.05,.16,.28,.42,.58,.77],
[54.75,.07,.18,.31,.46,.63,.83,1.07],[56.25,.04,.15,.27,.4,.56,.74,.96,1.24],[57.75,.06,.17,.3,.44,.61,.81,1.05,1.33],[59.25,.05,.16,.29,.43,.59,.78,1.0,1.28],[60.75,.03,.14,.26,.39,.54,.72,.94],[62.25,.07,.18,.31,.45,.62,.82,1.06],
[63.75,.05,.16,.28,.42,.58,.77,.99],[65.25,.06,.17,.3,.44,.6,.8],[66.75,.04,.15,.27,.4,.55,.73,.95],[68.25,.07,.18,.31,.46,.63,.83],[69.75,.05,.16,.29,.43,.59,.78,1.0],[71.25,.03,.14,.26,.39,.54,.72],
[72.75,.06,.17,.3,.44,.61,.81],[74.25,.05,.16,.28,.42,.58,.77,.99],[75.75,.07,.18,.31,.45,.62,.82,1.06],[77.25,.04,.15,.27,.4,.56,.74],[78.75,.06,.17,.3,.44,.6,.8,1.03],[80.25,.05,.16,.29,.43,.59,.78],
[81.75,.03,.14,.26,.39,.54,.72],[83.25,.07,.18,.31,.46,.63,.83],[84.75,.05,.16,.28,.42,.58,.77],[86.25,.06,.17,.3,.44,.61],[87.75,.04,.15,.27,.4,.55,.73,.95],[89.25,.07,.18,.31,.45,.62,.82,1.06],
[90.75,.05,.16,.29,.43,.59,.78,1.0,1.28],[92.25,.03,.14,.26,.39,.54,.72,.94,1.2,1.5],[93.75,.06,.17,.3,.44,.6,.8,1.03,1.3,1.62,1.95],[95.25,.05,.16,.28,.42,.58,.77,.99,1.25,1.55],[96.75,.07,.18,.31,.46,.63,.83,1.07,1.35],[98.25,.04,.15,.27,.4,.56,.74,.96,1.22,1.52],
[99.75,.06,.17,.3,.44,.61,.81,1.05,1.33,1.64],[101.25,.05,.16,.29,.43,.59,.78,1.0,1.27,1.58],[102.75,.03,.14,.26,.39,.54,.72,.94,1.2,1.5],[104.25,.07,.18,.31,.45,.62,.82,1.06,1.34],[105.75,.05,.16,.28,.42,.58,.77,.99,1.26],[107.25,.06,.17,.3,.44,.6,.8,1.03,1.3],
[108.75,.04,.15,.27,.4,.55,.73,.95],[110.25,.07,.18,.31,.46,.63,.83,1.07],[111.75,.05,.16,.29,.43,.59,.78,1.0,1.27],[113.25,.03,.14,.26,.39,.54,.72,.94],[114.75,.06,.17,.3,.44,.61,.81,1.05,1.33,1.64],[116.25,.05,.16,.28,.42,.58,.77,.99,1.25,1.56,1.9],
[117.75,.07,.18,.31,.45,.62,.82,1.06,1.34,1.65],[119.25,.04,.15,.27,.4,.56,.74,.96,1.22],[120.75,.06,.17,.3,.44,.6,.8,1.03],[122.25,.05,.16,.29,.43,.59,.78,1.0],[123.75,.03,.14,.26,.39,.54,.72,.94,1.2],[125.25,.07,.18,.31,.46,.63,.83,1.07,1.35],
[126.75,.05,.16,.28,.42,.58,.77,.99,1.26,1.56],[128.25,.06,.17,.3,.44,.61,.81,1.05,1.33],[129.75,.04,.15,.27,.4,.55,.73,.95,1.2],[131.25,.07,.18,.31,.45,.62,.82,1.06,1.34,1.65],[132.75,.05,.16,.29,.43,.59,.78,1.0,1.27,1.58,1.9],[134.25,.03,.14,.26,.39,.54,.72,.94,1.2,1.5,1.85],
[135.75,.06,.17,.3,.44,.6,.8,1.03,1.3,1.6],[137.25,.05,.16,.28,.42,.58,.77,.99,1.25,1.55],[138.75,.07,.18,.31,.46,.63,.83,1.07,1.35],[140.25,.04,.15,.27,.4,.56,.74,.96,1.22],[141.75,.06,.17,.3,.44,.61,.81,1.05],[143.25,.05,.16,.29,.43,.59,.78,1.0,1.27],
[144.75,.03,.14,.26,.39,.54,.72,.94,1.2,1.5],[146.25,.07,.18,.31,.45,.62,.82,1.06,1.34],[147.75,.05,.16,.28,.42,.58,.77,.99,1.26],[149.25,.06,.17,.3,.44,.6,.8,1.03,1.3],[150.75,.04,.15,.27,.4,.55,.73,.95,1.2,1.5],[152.25,.07,.18,.31,.46,.63,.83,1.07,1.35],
[153.75,.05,.16,.29,.43,.59,.78,1.0],[155.25,.03,.14,.26,.39,.54,.72,.94],[156.75,.06,.17,.3,.44,.61,.81,1.05],[158.25,.05,.16,.28,.42,.58,.77,.99,1.25],[159.75,.07,.18,.31,.45,.62,.82,1.06,1.34],[161.25,.04,.15,.27,.4,.56,.74,.96,1.22],
[162.75,.06,.17,.3,.44,.6,.8,1.03],[164.25,.05,.16,.29,.43,.59,.78,1.0,1.26],[165.75,.03,.14,.26,.39,.54,.72,.94],[167.25,.07,.18,.31,.46,.63,.83,1.07,1.35],[168.75,.05,.16,.28,.42,.58,.77,.99],[170.25,.06,.17,.3,.44,.61,.81,1.05,1.3],
[171.75,.04,.15,.27,.4,.55,.73,.95],[173.25,.07,.18,.31,.45,.62,.82,1.06],[174.75,.05,.16,.29,.43,.59,.78,1.0],[176.25,.03,.14,.26,.39,.54,.72]
];
const chr2Top = [
[138.6,6.88],[133.2,6.62],[133.2,6.38],[138.6,6.39],[145.9,6.72],[145.9,6.55],[139.9,5.91],[133.5,5.6],[145.8,5.69],[145.8,5.56],[151,5.8],[151.9,5.8],[150.7,5.51],[152.2,5.49],[172.7,5.77],[175.8,5.72],[116.6,5.84],
[94.6,5.89],[94.6,5.82],[93.9,5.68],[93.2,5.51],[94.4,5.51],[93.8,5.41],[94.4,5.38],[93.6,5.29],[94.6,5.27],[93.9,5.1],[94,5.0],[94,4.61],[93.6,4.51],[94.6,4.46],[93.8,4.32],[93.9,4.02],
[97,4.8],[99.2,4.79],[133.6,4.95],[134.2,4.86],[133.8,4.73],[133.5,4.62],[138.6,4.75],[138.9,4.72],[138.4,4.59],[138.6,4.55],[144.8,4.95],[150.8,4.9],[150.7,4.57],[151,4.52],[152.1,4.45],[151.4,4.4],
[162.4,4.63],[117.9,4.57],[130.4,4.61],[132.3,4.37],[133,4.22],[135.3,4.24],[136.7,4.45],[141.2,4.32],[147.1,4.44],[127.6,4.25],[127.6,4.06],[103,4.32],[97.2,4.16],[99.2,4.16],[116.9,4.15],[118.2,4.18],
[107.7,4.1],[122.1,3.88],[147.8,4.1],[145.8,3.96],[153,4.06],[151.4,4.0],[160.6,3.73],[172.9,3.7],[88.6,3.57],[84.6,3.25],[168.4,3.37],[158.8,3.07],[162.2,3.0],[174.4,2.7],
[4.7,5.1],[43.5,4.88],[43.2,4.46],[43.8,4.28],[43.4,4.19],[43.5,3.73],[44.9,3.73],[43.7,3.41],[43.5,3.38],[43.7,3.15],[41.7,3.55],[41.7,2.98],[43.4,2.95],[43,2.83],[43.7,2.78],[43,2.55],[43.2,2.27],[42.7,2.2],[43.4,2.12],
[56.2,4.02],[56.4,3.98],[52.2,3.63],[50.6,3.46],[52.2,3.24],[54.6,3.54],[55.2,3.5],[17.6,3.95],[17.7,3.59],[5.6,3.8],[7.6,3.3],[6.9,2.94],[5.6,2.63],[7.4,2.61],[7.4,2.56],
[10.2,3.01],[10.2,2.78],[10.6,2.66],[10.2,2.31],[13.1,3.19],[15.4,3.17],[12.8,2.54],[13.4,2.38],[23,3.03],[23,2.65],[28.1,3.17],[28.1,2.54],[28.8,2.54],[28.2,2.32],[29.5,2.3],[25.9,2.2],[26.3,2.57],
[36.1,2.94],[36.1,2.63],[36.3,2.41],[38.2,2.61],[38.2,2.41],[59.6,3.36],[60.6,3.4],[60.4,2.93],[59.8,2.8],[60.6,2.56],[60.6,2.45],[63.6,3.28],[64.9,2.86],[67.3,3.07],[67.3,2.32],[67.8,2.2],
[58,2.78],[71.9,2.56],[70.3,2.42],[78.8,2.9],[79.9,2.28],[2.3,2.34],[1.3,2.05],[38.8,2.02],[75.9,2.37],[76,1.93],
[99.4,3.9],[100.2,3.5],[100.5,3.3],[101.5,3.0],[102.5,2.8],[103.2,3.6],[103.6,3.4],[102.9,3.1],[104,2.9],[101.2,2.6],[104.5,2.5],[100,2.2],[103,2.3],
[107.7,3.7],[107.7,3.4],[107.7,3.1],[106,2.6],[109,2.5],[114.3,3.4],[115.5,3.6],[116.3,3.7],[117.8,3.5],[117,3.2],[116.5,3.0],[115.9,2.9],[117.5,2.7],[116.8,2.5],[115.6,2.3],[118,2.2],[117.2,2.0],
[127.6,3.6],[127.4,3.35],[127.2,2.9],[127.5,2.7],[126.5,2.5],[128.5,2.3],[127.6,2.1],
[130.5,3.0],[131.8,3.8],[133.2,3.3],[134,3.6],[135,3.4],[135.6,3.2],[136.5,3.9],[134.6,2.9],[133,2.7],[136,2.6],[132.5,2.4],[134.8,2.3],[133.8,2.1],[131.5,2.2],[132.3,2.0],
[138.6,3.2],[140.6,3.3],[139.5,2.8],[141,2.6],[139.2,2.4],[140.5,2.1],
[145.5,3.1],[146,2.9],[147.3,2.8],[148.5,3.2],[150,3.3],[151.5,3.5],[152.5,3.0],[149,2.6],[146.8,2.5],[150.5,2.4],[152,2.3],[153.5,2.7],[144.8,2.2],
[158.5,2.5],[160,2.8],[161,2.4],[162.3,2.9],[163.5,2.2],[165,2.6],[166.5,2.3],[167.5,2.5],[170.5,2.3],[172,2.6],[173.5,2.1],[175,2.9],[176.5,2.4],
[85.5,2.2],[87,2.5],[89.5,2.3],[91.2,2.8],[92,3.1],[93,3.3],[94.2,3.6],[95,2.7],[92.8,2.4],[96.5,3.0],[97.5,3.5]
];

const chr5Cols = [
[0,.02,.2,.42,.7,1.0,1.3],[2,0,.16,.36,.6,.88,1.2,1.55,1.9],[4,.04,.22,.45,.72,1.02,1.35,1.7,2.0],[6,0,.18,.38,.62,.9,1.22,1.55],
[8,.03,.2,.4,.66,.95,1.3,1.7,2.1],[10,0,.15,.35,.58,.85,1.15,1.5,1.9,2.3],[12,.02,.22,.44,.7,1.0,1.35,1.75,2.2,2.5],[14,0,.18,.4,.65,.92,1.25,1.6,2.0,2.4],
[16,.04,.2,.42,.68,.98,1.3,1.7,2.1],[18,0,.16,.36,.6,.88,1.2,1.55,1.95,2.4],[20,.03,.22,.45,.72,1.02,1.35,1.72,2.1],[22,0,.18,.38,.62,.9,1.22,1.6,2.0,2.5],
[24,.02,.2,.4,.66,.95,1.3,1.65,2.05],[26,0,.15,.35,.58,.85,1.18,1.55,1.95,2.4],[28,.04,.22,.44,.7,1.0,1.35,1.75,2.2],[30,0,.18,.4,.65,.92,1.25,1.6,1.95],
[32,.03,.2,.42,.68,.98,1.3,1.65],[34,0,.16,.36,.6,.88,1.2,1.5,1.85],[36,.02,.22,.45,.72,1.02,1.35,1.7],[38,0,.18,.38,.62,.9,1.22,1.6,2.0],
[40,.04,.2,.4,.66,.95,1.28,1.65,2.05,2.35],[42,0,.15,.35,.58,.85,1.18,1.55,1.95],[44,.03,.22,.44,.7,1.0,1.35,1.7,2.1],[46,0,.18,.4,.65,.92,1.25,1.6,2.0],
[48,.02,.2,.42,.68,.98,1.3,1.62],[50,0,.16,.36,.6,.88,1.15,1.45],[52,.04,.22,.45,.72,1.0,1.3,1.6],[54,0,.18,.38,.62,.9,1.2,1.5],
[56,.03,.2,.4,.66,.95,1.25],[58,0,.15,.35,.58,.85,1.15,1.5],[60,.02,.22,.44,.7,1.0,1.32,1.7,2.05],[62,0,.18,.4,.65,.92,1.25,1.6,2.0,2.3],
[64,.04,.2,.42,.68,.98,1.3,1.65,2.05],[66,0,.16,.36,.6,.88,1.2,1.55,1.95,2.25],[68,.03,.22,.45,.72,1.02,1.35,1.75,2.15,2.5],[70,0,.18,.38,.62,.9,1.22,1.6,2.0,2.4,2.75],
[72,.02,.2,.4,.66,.95,1.3,1.7,2.1,2.5],[74,0,.15,.35,.58,.85,1.18,1.55,1.9],[76,.04,.22,.44,.7,1.0,1.3,1.6],[78,0,.18,.4,.65,.92,1.22,1.5],
[80,.03,.2,.42,.68,.95,1.25,1.55],[82,0,.16,.36,.6,.88,1.18,1.5],[84,.02,.22,.45,.72,1.0,1.3,1.65],[86,0,.18,.38,.62,.9,1.2,1.55,1.8],
[88,.04,.2,.4,.66,.95,1.28,1.65],[90,0,.15,.35,.58,.85,1.15,1.45,1.75],[92,.03,.22,.44,.7,1.0,1.3,1.6],[94,0,.18,.4,.65,.92,1.2,1.45],
[96,.02,.2,.42,.68,.95,1.22],[98,0,.16,.36,.6,.86,1.12,1.4],[100,.04,.22,.45,.72,1.0,1.28],[102,0,.18,.38,.62,.88,1.15,1.4],
[104,.03,.2,.4,.66,.92,1.2],[106,0,.15,.35,.58,.85,1.12,1.4,1.6],[108,.02,.22,.44,.7,.98,1.25,1.55],[110,0,.18,.4,.65,.9,1.18,1.45],
[112,.04,.2,.42,.68,.95,1.22,1.5],[114,0,.16,.36,.6,.88,1.15,1.45,1.65],[116,.03,.22,.45,.72,1.0,1.3,1.6],[118,0,.18,.38,.62,.9,1.2,1.5],
[120,.02,.2,.4,.66,.95,1.25,1.55,1.8],[122,0,.15,.35,.58,.85,1.15,1.45,1.75],[124,.04,.22,.44,.7,1.0,1.3,1.62,1.9],[126,0,.18,.4,.65,.92,1.22,1.55,1.85],
[128,.03,.2,.42,.68,.98,1.3,1.6],[130,0,.16,.36,.6,.88,1.18,1.5,1.8],[132,.02,.22,.45,.72,1.0,1.32,1.65],[134,0,.18,.38,.62,.9,1.22,1.55,1.85],
[136,.04,.2,.4,.66,.95,1.28,1.6],[138,0,.15,.35,.58,.85,1.15,1.45,1.8],[140,.03,.22,.44,.7,1.0,1.3,1.6],[142,0,.18,.4,.65,.92,1.2,1.5],
[144,.02,.2,.42,.68,.98,1.3,1.62,1.95],[146,0,.16,.36,.6,.88,1.2,1.55,1.95,2.35],[148,.04,.22,.45,.72,1.02,1.35,1.75,2.15,2.5],[150,0,.18,.38,.62,.9,1.22,1.6,2.0],
[152,.03,.2,.4,.66,.95,1.25,1.55],[154,0,.15,.35,.58,.85,1.15,1.45,1.7],[156,.02,.22,.44,.7,1.0,1.3,1.6],[158,0,.18,.4,.65,.92,1.22,1.55,1.9],
[160,.04,.2,.42,.68,.98,1.3,1.65,2.0],[162,0,.16,.36,.6,.88,1.2,1.55,1.9,2.2],[164,.03,.22,.45,.72,1.02,1.35,1.7,2.05],[166,0,.18,.38,.62,.9,1.22,1.58,1.95,2.3],
[168,.02,.2,.4,.66,.95,1.3,1.65,2.0],[170,0,.15,.35,.58,.85,1.18,1.55,1.9],[172,.04,.22,.44,.7,1.0,1.3,1.6],[174,0,.18,.4,.65,.92,1.2,1.45],
[176,.03,.2,.42,.68,.95,1.25,1.5],[178,0,.16,.36,.6,.88,1.15,1.4],[180,.02,.22,.45,.72,1.0,1.32,1.7,2.05],[182,0,.18,.38,.62,.9,1.22,1.6,2.0,2.3],
[184,.04,.2,.4,.66,.95,1.28,1.65,2.05],[186,0,.15,.35,.58,.85,1.18,1.55,1.9,2.2],[188,.03,.22,.44,.7,1.0,1.32,1.68,2.0],[190,0,.18,.4,.65,.92,1.25,1.6,1.95],
[192,.02,.2,.42,.68,.98,1.3,1.62],[194,0,.16,.36,.6,.88,1.2,1.55,1.85],[196,.04,.22,.45,.72,1.02,1.35,1.7,2.0],[198,0,.18,.38,.62,.9,1.22,1.58,1.95],
[200,.03,.2,.4,.66,.95,1.28,1.65,2.0],[202,0,.15,.35,.58,.85,1.18,1.55,1.9,2.25],[204,.02,.22,.44,.7,1.0,1.35,1.72,2.1],[206,0,.18,.4,.65,.92,1.25,1.62,2.0,2.35],
[208,.04,.2,.42,.68,.98,1.32,1.7,2.1],[210,0,.16,.36,.6,.88,1.2,1.56,1.95,2.35,2.7],[212,.03,.22,.45,.72,1.02,1.36,1.75,2.15,2.55],[214,0,.18,.38,.62,.9,1.22,1.6,2.0,2.4,2.8],
[216,.02,.2,.4,.66,.95,1.3,1.68,2.1,2.5],[218,0,.15,.35,.58,.85,1.18,1.55,1.95,2.35],[220,.04,.22,.44,.7,1.0,1.35,1.72,2.1,2.5],[222,0,.18,.4,.65,.92,1.25,1.62,2.0,2.4,2.8],
[224,.03,.2,.42,.68,.98,1.32,1.7,2.1,2.5],[226,0,.16,.36,.6,.88,1.2,1.56,1.95,2.35,2.75],[228,.02,.22,.45,.72,1.02,1.36,1.75,2.15,2.6],[230,0,.18,.38,.62,.9,1.22,1.6,2.0,2.4],
[232,.04,.2,.4,.66,.95,1.3,1.68,2.1,2.55],[234,0,.15,.35,.58,.85,1.18,1.55,1.95,2.4,2.8],[236,.03,.22,.44,.7,1.0,1.35,1.72,2.1,2.5,2.9],[238,0,.18,.4,.65,.92,1.25,1.62,2.0,2.45,2.85],
[240,.02,.2,.42,.68,.98,1.32,1.7,2.1,2.5,2.95],[242,0,.16,.36,.6,.88,1.2,1.56,1.95,2.35,2.8,3.2],[244,.04,.22,.45,.72,1.02,1.36,1.75,2.15,2.6,3.0],[246,0,.18,.38,.62,.9,1.22,1.6,2.0,2.4,2.85],
[248,.03,.2,.4,.66,.95,1.3,1.68,2.1,2.55],[250,0,.15,.35,.58,.85,1.18,1.5]
];
const chr5Fill = [
[1,.08,.3,.55,.85],[3,.1,.32,.58,.9,1.2],[5,.06,.28,.52,.8,1.12,1.45],[7,.09,.31,.56,.86,1.18],[9,.07,.29,.54,.84,1.16,1.5],[11,.1,.33,.6,.92,1.26,1.65],
[13,.05,.27,.5,.78,1.1,1.45,1.85],[15,.08,.3,.55,.85,1.18,1.55],[17,.1,.32,.58,.9,1.22,1.6,2.0],[19,.06,.28,.52,.8,1.12,1.48,1.85],[21,.09,.31,.56,.86,1.2,1.56],[23,.07,.29,.54,.84,1.16,1.52,1.9],
[25,.1,.33,.6,.92,1.26,1.62],[27,.05,.27,.5,.78,1.1,1.46,1.85],[29,.08,.3,.55,.85,1.18,1.55],[31,.1,.32,.58,.9,1.22],[33,.06,.28,.52,.8,1.12,1.45],[35,.09,.31,.56,.86,1.18],
[37,.07,.29,.54,.84,1.16,1.5],[39,.1,.33,.6,.92,1.26,1.65],[41,.05,.27,.5,.78,1.1,1.45,1.8],[43,.08,.3,.55,.85,1.18,1.55],[45,.1,.32,.58,.9,1.22,1.6],[47,.06,.28,.52,.8,1.12],
[49,.09,.31,.56,.86,1.15],[51,.07,.29,.54,.84],[53,.1,.33,.6,.92,1.2],[55,.05,.27,.5,.78,1.05],[57,.08,.3,.55,.85],[59,.1,.32,.58,.9,1.2],
[61,.06,.28,.52,.8,1.12,1.48],[63,.09,.31,.56,.86,1.2,1.56,1.9],[65,.07,.29,.54,.84,1.16,1.52],[67,.1,.33,.6,.92,1.26,1.62,1.95],[69,.05,.27,.5,.78,1.1,1.46,1.85],[71,.08,.3,.55,.85,1.18,1.55,1.95],
[73,.1,.32,.58,.9,1.22,1.6],[75,.06,.28,.52,.8,1.12],[77,.09,.31,.56,.86,1.15],[79,.07,.29,.54,.84],[81,.1,.33,.6,.92,1.2],[83,.05,.27,.5,.78,1.05],
[85,.08,.3,.55,.85,1.15,1.45],[87,.1,.32,.58,.9,1.2],[89,.06,.28,.52,.8,1.1],[91,.09,.31,.56,.86],[93,.07,.29,.54,.84,1.12],[95,.1,.33,.6,.9],
[97,.05,.27,.5,.78],[99,.08,.3,.55,.85,1.1],[101,.1,.32,.58,.88],[103,.06,.28,.52,.8,1.05],[105,.09,.31,.56,.86],[107,.07,.29,.54,.84,1.12],
[109,.1,.33,.6,.9,1.2],[111,.05,.27,.5,.78,1.05],[113,.08,.3,.55,.85,1.12],[115,.1,.32,.58,.9,1.2],[117,.06,.28,.52,.8,1.1],[119,.09,.31,.56,.86,1.15],
[121,.07,.29,.54,.84,1.14,1.45],[123,.1,.33,.6,.92,1.25],[125,.05,.27,.5,.78,1.1,1.42],[127,.08,.3,.55,.85,1.16],[129,.1,.32,.58,.9,1.22,1.5],[131,.06,.28,.52,.8,1.12],
[133,.09,.31,.56,.86,1.18,1.48],[135,.07,.29,.54,.84,1.15],[137,.1,.33,.6,.92,1.25],[139,.05,.27,.5,.78,1.1,1.42],[141,.08,.3,.55,.85,1.16],[143,.1,.32,.58,.9,1.22],
[145,.06,.28,.52,.8,1.12,1.48],[147,.09,.31,.56,.86,1.2,1.56,1.9],[149,.07,.29,.54,.84,1.16,1.52],[151,.1,.33,.6,.92,1.25],[153,.05,.27,.5,.78,1.08],[155,.08,.3,.55,.85,1.15],
[157,.1,.32,.58,.9,1.22],[159,.06,.28,.52,.8,1.12,1.45],[161,.09,.31,.56,.86,1.18,1.52],[163,.07,.29,.54,.84,1.16,1.5],[165,.1,.33,.6,.92,1.26,1.6],[167,.05,.27,.5,.78,1.1,1.45],
[169,.08,.3,.55,.85,1.18],[171,.1,.32,.58,.9,1.2],[173,.06,.28,.52,.8,1.08],[175,.09,.31,.56,.86],[177,.07,.29,.54,.84,1.12],[179,.1,.33,.6,.92,1.25],
[181,.05,.27,.5,.78,1.1,1.46,1.8],[183,.08,.3,.55,.85,1.18,1.55],[185,.1,.32,.58,.9,1.22,1.6],[187,.06,.28,.52,.8,1.12,1.48],[189,.09,.31,.56,.86,1.2],[191,.07,.29,.54,.84,1.16,1.5],
[193,.1,.33,.6,.92,1.26],[195,.05,.27,.5,.78,1.1,1.45],[197,.08,.3,.55,.85,1.18,1.52],[199,.1,.32,.58,.9,1.22,1.58],[201,.06,.28,.52,.8,1.12,1.48],[203,.09,.31,.56,.86,1.2,1.56],
[205,.07,.29,.54,.84,1.16,1.52,1.9],[207,.1,.33,.6,.92,1.26,1.62],[209,.05,.27,.5,.78,1.1,1.46,1.85],[211,.08,.3,.55,.85,1.18,1.55,1.95],[213,.1,.32,.58,.9,1.22,1.6,2.0],[215,.06,.28,.52,.8,1.12,1.48,1.88],
[217,.09,.31,.56,.86,1.2,1.56],[219,.07,.29,.54,.84,1.16,1.52,1.9],[221,.1,.33,.6,.92,1.26,1.62,2.0],[223,.05,.27,.5,.78,1.1,1.46,1.85],[225,.08,.3,.55,.85,1.18,1.55,1.95],[227,.1,.32,.58,.9,1.22,1.6,2.0],
[229,.06,.28,.52,.8,1.12,1.48,1.88],[231,.09,.31,.56,.86,1.2,1.56,1.95],[233,.07,.29,.54,.84,1.16,1.52,1.9],[235,.1,.33,.6,.92,1.26,1.62,2.0],[237,.05,.27,.5,.78,1.1,1.46,1.85,2.25],[239,.08,.3,.55,.85,1.18,1.55,1.95,2.35],
[241,.1,.32,.58,.9,1.22,1.6,2.0,2.4],[243,.06,.28,.52,.8,1.12,1.48,1.88,2.3],[245,.09,.31,.56,.86,1.2,1.56,1.95,2.35],[247,.07,.29,.54,.84,1.16,1.52,1.9,2.3],[249,.1,.33,.6,.92,1.26,1.62,2.0]
];
const chr5Top = [
[243.6,11.5],[231.7,9.31],[231.7,8.65],[243.4,9.17],[239.9,9.1],
[214,8.11],[214,7.73],[208.4,7.71],[208.8,7.0],[214,7.06],[214.9,6.9],[214.9,6.8],[213.9,6.53],[208.4,6.31],[214.6,6.2],[212.5,5.84],
[247.9,8.06],[243.9,7.73],[244.6,7.71],[245.6,7.65],[247.9,7.41],[242.5,7.25],[244.7,7.18],[242.5,7.02],[243.9,7.0],[244.7,6.98],[239.6,6.63],[239.7,6.45],[239.4,6.16],[236.3,6.09],
[243,6.45],[242.5,6.23],[244.4,6.21],[242.5,6.05],[244.7,5.82],[247.9,5.7],[247.9,5.33],[244.7,5.26],[243,5.03],[244.4,4.94],[241.2,4.79],[247.9,4.8],[247.9,4.64],[244.4,4.37],[247.9,4.15],
[222,5.59],[222,4.89],[227.3,5.63],[227.3,5.45],[230.3,5.63],[235.6,5.14],[236.3,4.87],[236.1,4.85],
[212.8,5.26],[214.9,5.17],[214.9,5.08],[211.5,4.91],[214.2,4.8],[213.3,4.6],[212.8,4.43],[216.8,4.37],[215.1,4.02],[214.6,3.88],[213.3,3.79],[212.4,3.51],[212.8,3.37],
[182.7,5.14],[182.9,4.76],[182.5,3.92],[182.9,3.51],[182.7,3.28],[199.3,4.37],[203.7,4.04],[230.8,4.52],[227,4.43],[230.6,4.34],[233.4,4.48],[233.7,3.83],[226.1,3.69],[228.2,3.7],
[149.9,5.71],[136.5,4.18],[136.5,4.02],[147.6,3.55],[147.2,3.09],[147.6,3.0],[147.2,3.3],
[186.7,3.97],[187.1,3.76],[187.4,3.51],[186.7,3.23],[186.5,3.09],[191.5,3.72],[198,3.72],[198.9,3.74],[206.6,3.46],[206.9,3.23],[208.7,3.55],[220.8,3.43],[124.1,3.12],[157.8,3.05],[157.8,2.9],
[166.9,2.97],[170.5,2.84],[139.5,2.67],[126.8,2.7],[128.3,2.67],[154.7,2.72],
[87.9,6.8],[23,5.8],[18.5,4.97],[23,4.94],[28.8,4.97],[28.8,4.8],[23,4.48],[23.2,4.5],[18.6,4.27],[17.6,3.92],[15.7,3.72],[17.6,3.6],[15.2,3.32],[15.2,3.09],
[42.1,4.57],[43.1,3.99],[25.6,3.79],[25.1,3.72],[28.8,4.04],[28.5,3.83],[29.5,3.53],[28.3,3.05],[29.3,3.0],
[71.7,4.29],[73.8,4.25],[72.7,4.07],[71.2,4.02],[72.2,3.9],[70.6,3.65],[70.1,3.42],[69.6,3.19],[71.7,3.24],[72.2,2.77],[65.4,3.37],[65.4,3.14],[67.5,2.82],[67.5,2.73],
[107.8,4.16],[119.8,4.25],[85.8,3.35],[85.6,3.0],[91.3,3.12],
[10.2,3.09],[7.9,2.91],[4.2,2.74],[12.6,2.86],[12.1,2.4],[12.1,2.27],[23.8,2.94],[26.2,2.77],[41.3,3.0],[38.5,2.94],[40.8,2.82],[33.5,2.83],[33.5,2.7],[51.1,2.77],[53.9,2.79],
[76.2,2.91],[76.6,2.57],[81.3,2.84],[71.7,2.35],[33.5,2.26],[33,2.1],
[181.5,2.6],[183.5,2.9],[188,2.5],[192.5,2.7],[196,2.4],[200,2.9],[202.5,2.6],[205,3.0],[207,2.7],[210.5,3.1],[211.8,3.3],[213.2,3.0],[215.5,3.2],[217,2.9],[219,3.1],[221.5,3.0],
[223,3.3],[225,2.95],[226.7,3.2],[228.5,3.45],[229.8,3.1],[232,3.3],[234,3.0],[235.5,3.5],[237,3.25],[238.5,3.7],[240,3.4],[241,3.9],[242,4.1],[243.2,3.6],[244.5,3.3],[245.5,4.0],
[246.5,3.6],[247.5,3.2],[248.5,3.8],[236.8,4.1],[238,4.3],[240.5,4.5],[235,3.9]
];

const chr11Cols = [
[0,.02,.12,.26,.42,.62,.9,1.2],[2,0,.1,.22,.38,.58,.82,1.1,1.35,1.6,1.8],[4,.03,.15,.3,.46,.66,.9,1.2,1.55,1.9,2.3],[6,0,.12,.26,.42,.62,.86,1.15,1.5,1.85,2.2,2.6],
[8,.02,.1,.24,.4,.6,.82,1.1,1.45,1.8,2.15,2.5,2.75],[10,0,.14,.28,.44,.64,.9,1.2,1.55,1.9,2.25,2.6],[12,.04,.12,.26,.42,.62,.86,1.15,1.5,1.85,2.2,2.5],[14,0,.1,.22,.38,.56,.8,1.05,1.4,1.75,2.1,2.45],
[16,.02,.15,.3,.46,.66,.9,1.2,1.55,1.9,2.25,2.6],[18,0,.12,.26,.42,.6,.84,1.12,1.45,1.8,2.15],[20,.03,.1,.24,.4,.6,.82,1.1,1.45,1.8,2.15,2.5],[22,0,.14,.28,.44,.64,.9,1.2,1.55,1.9,2.25],
[24,.02,.12,.26,.42,.62,.86,1.15,1.5,1.85,2.2,2.5],[26,0,.1,.22,.38,.58,.8,1.08,1.4,1.75,2.1,2.4],[28,.04,.15,.3,.46,.66,.9,1.2,1.5,1.85,2.2],[30,0,.12,.26,.42,.62,.86,1.15,1.45,1.8,2.1],
[32,.02,.1,.22,.38,.56,.8,1.05,1.35,1.7,2.05],[34,0,.13,.28,.44,.64,.88,1.18,1.5,1.85,2.2],[36,.03,.12,.25,.4,.6,.84,1.12,1.45,1.8],[38,0,.1,.22,.38,.58,.8,1.08,1.42,1.78,2.1],
[40,.02,.15,.3,.46,.66,.9,1.2,1.55,1.9,2.25],[42,0,.12,.26,.42,.6,.84,1.12,1.45,1.8,2.15,2.45],[44,.04,.1,.24,.4,.58,.82,1.1,1.45,1.8,2.1],[46,0,.14,.28,.44,.64,.9,1.2,1.55,1.9,2.3],
[48,.02,.12,.26,.42,.62,.86,1.15,1.5,1.85],[50,0,.1,.22,.38,.58,.8,1.06,1.38,1.72],[52,.03,.15,.3,.46,.66,.9,1.2,1.5],[54,0,.12,.26,.42,.6,.84,1.12,1.45],
[56,.02,.1,.24,.4,.6,.82,1.1],[58,0,.14,.3,.46,.66,.9,1.2,1.45],[60,.04,.12,.26,.42,.62,.86,1.15],[62,0,.1,.22,.38,.56,.8,1.05,1.35,1.65],
[64,.02,.15,.3,.46,.66,.9,1.2,1.55,1.9],[66,0,.12,.26,.42,.6,.84,1.12,1.45,1.8],[68,.03,.1,.24,.4,.6,.82,1.1,1.4,1.7,2.0],[70,0,.13,.28,.44,.64,.88,1.18,1.5,1.85],
[72,.02,.12,.25,.4,.6,.84,1.12,1.45,1.75],[74,0,.1,.22,.38,.58,.8,1.08,1.4,1.7,1.95],[76,.04,.15,.3,.46,.66,.9,1.2,1.5],[78,0,.12,.26,.42,.62,.86,1.15,1.45],
[80,.02,.1,.24,.4,.6,.82,1.1,1.4,1.6],[82,0,.14,.28,.44,.64,.9,1.2,1.5,1.8],[84,.03,.12,.26,.42,.62,.86,1.15,1.5,1.75],[86,0,.1,.22,.38,.56,.8,1.05,1.35,1.6],
[88,.02,.15,.3,.46,.66,.9,1.2,1.5],[90,0,.12,.26,.42,.6,.84,1.12,1.4,1.6],[92,.04,.1,.24,.4,.58,.82,1.1,1.4],[94,0,.13,.28,.44,.64,.88,1.18,1.45],
[96,.02,.12,.26,.42,.62,.86,1.15],[98,0,.1,.22,.38,.58,.8,1.06,1.35],[100,.03,.15,.3,.46,.66,.9,1.2,1.4],[102,0,.12,.26,.42,.6,.84,1.12,1.45],
[104,.02,.1,.24,.4,.6,.82,1.1,1.38],[106,0,.14,.3,.46,.66,.9,1.2,1.5],[108,.04,.12,.26,.42,.62,.86,1.15,1.45],[110,0,.1,.22,.38,.56,.8,1.05,1.35],
[112,.02,.15,.3,.46,.66,.9,1.2,1.5],[114,0,.12,.26,.42,.6,.84,1.12,1.4],[116,.03,.1,.24,.4,.6,.82,1.1,1.35],[118,0,.13,.28,.44,.64,.88,1.18,1.5],
[120,.02,.12,.25,.4,.6,.84,1.12,1.45,1.75],[122,0,.1,.22,.38,.58,.8,1.08,1.4,1.7],[124,.04,.15,.3,.46,.66,.9,1.2,1.55,1.85],[126,0,.12,.26,.42,.62,.86,1.15,1.5,1.8],
[128,.02,.1,.24,.4,.6,.82,1.1,1.4,1.7],[130,0,.14,.28,.44,.64,.9,1.2,1.5,1.8],[132,.03,.12,.26,.42,.62,.86,1.15,1.5,1.75],[134,0,.1,.22,.38,.56,.8,1.05,1.4,1.75],
[136,.02,.15,.3,.46,.66,.9,1.2,1.55,1.8],[138,0,.12,.26,.42,.6,.84,1.12,1.45,1.7],[140,.04,.1,.24,.4,.58,.82,1.1,1.45,1.75],[142,0,.13,.28,.44,.64,.88,1.18,1.5,1.8],
[144,.02,.12,.26,.42,.62,.86,1.15,1.5,1.85],[146,0,.1,.22,.38,.58,.8,1.08,1.42,1.8,2.1],[148,.03,.15,.3,.46,.66,.9,1.2,1.55,1.9,2.2],[150,0,.12,.26,.42,.6,.84,1.12,1.45,1.8,2.1],
[152,.02,.1,.24,.4,.6,.82,1.1,1.45,1.7],[154,0,.14,.3,.46,.66,.9,1.2,1.5],[156,.04,.12,.26,.42,.62,.86,1.15,1.45,1.65],[158,0,.1,.22,.38,.56,.8,1.05,1.35],
[160,.02,.15,.3,.46,.66,.9,1.2,1.5,1.7],[162,0,.12,.26,.42,.6,.84,1.12,1.4],[164,.03,.1,.24,.4,.6,.82,1.1,1.4,1.6],[166,0,.13,.28,.44,.64,.88,1.18,1.45],
[168,.02,.12,.25,.4,.6,.84,1.12,1.4,1.65],[170,0,.1,.22,.38,.58,.8,1.06,1.35],[172,.04,.15,.3,.46,.66,.9,1.2,1.4],[174,0,.12,.26,.42,.62,.86,1.15],
[176,.02,.1,.24,.4,.6,.82,1.1,1.35],[178,0,.14,.28,.44,.64,.9,1.2],[180,.03,.12,.26,.42,.62,.86,1.15,1.45],[182,0,.1,.22,.38,.56,.8,1.05,1.35,1.6],
[184,.02,.15,.3,.46,.66,.9,1.2,1.5],[186,0,.12,.26,.42,.6,.84,1.12,1.4,1.65],[188,.04,.1,.24,.4,.58,.82,1.1,1.4,1.7],[190,0,.13,.28,.44,.64,.88,1.18,1.5,1.8],
[192,.02,.12,.26,.42,.62,.86,1.15,1.5,1.85],[194,0,.1,.22,.38,.58,.8,1.08,1.4,1.7],[196,.03,.15,.3,.46,.66,.9,1.2,1.55,1.8],[198,0,.12,.26,.42,.6,.84,1.12,1.45,1.75],
[200,.02,.1,.24,.4,.6,.82,1.1,1.4,1.7],[202,0,.14,.3,.46,.66,.9,1.2,1.5,1.8],[204,.04,.12,.26,.42,.62,.86,1.15,1.45,1.75],[206,0,.1,.22,.38,.56,.8,1.05,1.35,1.6],
[208,.02,.15,.3,.46,.66,.9,1.2,1.5],[210,0,.12,.26,.42,.6,.84,1.12,1.4],[212,.03,.1,.24,.4,.6,.82,1.1,1.4,1.55],[214,0,.13,.28,.44,.64,.88,1.18,1.45],
[216,.02,.12,.25,.4,.6,.84,1.12,1.4],[218,0,.1,.22,.38,.58,.8,1.06,1.38,1.6],[220,.04,.15,.3,.46,.66,.9,1.2,1.5,1.8],[222,0,.12,.26,.42,.62,.86,1.15,1.5,1.85,2.1],
[224,.02,.1,.24,.4,.6,.82,1.1,1.45,1.8,2.15],[226,0,.14,.28,.44,.64,.9,1.2,1.55,1.9,2.2],[228,.03,.12,.26,.42,.62,.86,1.15,1.5,1.85],[230,0,.1,.22,.38,.56,.8,1.05,1.4,1.75],
[232,.02,.15,.3,.46,.66,.9,1.2,1.55,1.85],[234,0,.12,.26,.42,.6,.84,1.12,1.45,1.8,2.0],[236,.04,.1,.24,.4,.58,.82,1.1,1.45,1.75],[238,0,.13,.28,.44,.64,.88,1.18,1.5,1.85],
[240,.02,.12,.26,.42,.62,.86,1.15,1.5,1.85,2.1],[242,0,.1,.22,.38,.58,.8,1.08,1.42,1.8,2.15],[244,.03,.15,.3,.46,.66,.9,1.2,1.55,1.9,2.2],[246,0,.12,.26,.42,.6,.84,1.12,1.45,1.8,2.1],
[248,.02,.1,.24,.4,.6,.82,1.1,1.45,1.8,2.15],[250,0,.14,.3,.46,.66,.9,1.2,1.55,1.9,2.2],[252,.04,.12,.26,.42,.62,.86,1.15,1.5,1.85,2.1],[254,0,.1,.22,.38,.56,.8,1.05,1.4,1.75,2.05],
[256,.02,.15,.3,.46,.66,.9,1.2,1.55,1.9,2.25],[258,0,.12,.26,.42,.6,.84,1.12,1.45,1.8,2.1],[260,.03,.1,.24,.4,.6,.82,1.1,1.45,1.8,2.1],[262,0,.13,.28,.44,.64,.88,1.18,1.5,1.85,2.15],
[264,.02,.12,.25,.4,.6,.84,1.12,1.45,1.8],[266,0,.1,.22,.38,.58,.8,1.06,1.4,1.75,2.0],[268,.04,.15,.3,.46,.66,.9,1.2,1.5,1.8],[270,0,.12,.26,.42,.62,.86,1.15,1.4]
];
const chr11Fill = [
[1,.07,.2,.36,.55,.78,1.02],[3,.05,.18,.34,.52,.74,.98,1.25],[5,.08,.22,.39,.6,.84,1.12,1.42],[7,.04,.17,.33,.52,.75,1.02,1.32,1.65],[9,.06,.2,.37,.57,.8,1.08,1.38,1.7],[11,.05,.19,.35,.54,.77,1.04,1.33,1.65],
[13,.07,.21,.38,.59,.83,1.12,1.42,1.75],[15,.03,.16,.32,.51,.74,1.0,1.3,1.6],[17,.06,.2,.36,.55,.78,1.05,1.35,1.68],[19,.05,.18,.34,.53,.76,1.03,1.32],[21,.08,.23,.4,.61,.86,1.15,1.45,1.78],[23,.04,.17,.33,.52,.75,1.02,1.3],
[25,.06,.19,.36,.56,.8,1.08,1.38,1.7],[27,.05,.2,.37,.57,.81,1.1,1.4],[29,.07,.22,.39,.6,.84,1.12,1.42],[31,.03,.16,.31,.5,.72,.97,1.25],[33,.06,.2,.36,.55,.78,1.05,1.35],[35,.05,.18,.34,.53,.76,1.03,1.32,1.62],
[37,.08,.22,.38,.58,.82,1.1,1.4],[39,.04,.17,.32,.5,.72,.98,1.26],[41,.06,.2,.37,.56,.8,1.08,1.38,1.7],[43,.05,.19,.35,.54,.77,1.04,1.33,1.65],[45,.07,.21,.38,.59,.83,1.12,1.42],[47,.03,.16,.32,.51,.74,1.0,1.3],
[49,.06,.2,.36,.55,.78,1.05],[51,.05,.18,.34,.53,.76,1.03],[53,.08,.23,.4,.61,.86],[55,.04,.17,.33,.52,.75],[57,.06,.19,.36,.56,.8],[59,.05,.2,.37,.57,.81,1.1],
[61,.07,.22,.39,.6,.84],[63,.03,.16,.31,.5,.72,.97,1.25],[65,.06,.2,.36,.55,.78,1.05,1.35],[67,.05,.18,.34,.53,.76,1.03,1.32],[69,.08,.22,.38,.58,.82,1.1,1.4],[71,.04,.17,.32,.5,.72,.98,1.26],
[73,.06,.2,.37,.56,.8,1.08],[75,.05,.19,.35,.54,.77,1.04,1.33],[77,.07,.21,.38,.59,.83,1.12],[79,.03,.16,.32,.51,.74,1.0],[81,.06,.2,.36,.55,.78,1.05],[83,.05,.18,.34,.53,.76,1.03,1.32],
[85,.08,.23,.4,.61,.86,1.15],[87,.04,.17,.33,.52,.75,1.0],[89,.06,.19,.36,.56,.8],[91,.05,.2,.37,.57,.81,1.08],[93,.07,.22,.39,.6,.84],[95,.03,.16,.31,.5,.72,.97],
[97,.06,.2,.36,.55,.78],[99,.05,.18,.34,.53,.76,1.0],[101,.08,.22,.38,.58,.82,1.1],[103,.04,.17,.32,.5,.72],[105,.06,.2,.37,.56,.8,1.05],[107,.05,.19,.35,.54,.77,1.02],
[109,.07,.21,.38,.59,.83],[111,.03,.16,.32,.51,.74,1.0],[113,.06,.2,.36,.55,.78,1.05],[115,.05,.18,.34,.53,.76],[117,.08,.23,.4,.61,.86,1.12],[119,.04,.17,.33,.52,.75,1.0],
[121,.06,.19,.36,.56,.8,1.08,1.35],[123,.05,.2,.37,.57,.81,1.1],[125,.07,.22,.39,.6,.84,1.12,1.4],[127,.03,.16,.31,.5,.72,.97,1.25],[129,.06,.2,.36,.55,.78,1.05],[131,.05,.18,.34,.53,.76,1.03,1.3],
[133,.08,.22,.38,.58,.82,1.1],[135,.04,.17,.32,.5,.72,.98,1.26],[137,.06,.2,.37,.56,.8,1.08],[139,.05,.19,.35,.54,.77,1.04,1.3],[141,.07,.21,.38,.59,.83,1.12],[143,.03,.16,.32,.51,.74,1.0,1.3],
[145,.06,.2,.36,.55,.78,1.05,1.35],[147,.05,.18,.34,.53,.76,1.03,1.32,1.62],[149,.08,.23,.4,.61,.86,1.15,1.45],[151,.04,.17,.33,.52,.75,1.02,1.3],[153,.06,.19,.36,.56,.8,1.08],[155,.05,.2,.37,.57,.81],
[157,.07,.22,.39,.6,.84,1.1],[159,.03,.16,.31,.5,.72],[161,.06,.2,.36,.55,.78,1.05],[163,.05,.18,.34,.53,.76],[165,.08,.22,.38,.58,.82,1.1],[167,.04,.17,.32,.5,.72],
[169,.06,.2,.37,.56,.8,1.05],[171,.05,.19,.35,.54,.77],[173,.07,.21,.38,.59,.83],[175,.03,.16,.32,.51,.74],[177,.06,.2,.36,.55,.78],[179,.05,.18,.34,.53],
[181,.08,.23,.4,.61,.86,1.12],[183,.04,.17,.33,.52,.75,1.0],[185,.06,.19,.36,.56,.8,1.08],[187,.05,.2,.37,.57,.81,1.1],[189,.07,.22,.39,.6,.84,1.12,1.4],[191,.03,.16,.31,.5,.72,.97,1.25],
[193,.06,.2,.36,.55,.78,1.05,1.35],[195,.05,.18,.34,.53,.76,1.03],[197,.08,.22,.38,.58,.82,1.1,1.4],[199,.04,.17,.32,.5,.72,.98],[201,.06,.2,.37,.56,.8,1.08,1.35],[203,.05,.19,.35,.54,.77,1.04],
[205,.07,.21,.38,.59,.83,1.12],[207,.03,.16,.32,.51,.74,1.0],[209,.06,.2,.36,.55,.78],[211,.05,.18,.34,.53,.76,1.0],[213,.08,.23,.4,.61,.86],[215,.04,.17,.33,.52,.75,1.0],
[217,.06,.19,.36,.56,.8],[219,.05,.2,.37,.57,.81,1.08],[221,.07,.22,.39,.6,.84,1.12,1.42],[223,.03,.16,.31,.5,.72,.97,1.25,1.55],[225,.06,.2,.36,.55,.78,1.05,1.35,1.65],[227,.05,.18,.34,.53,.76,1.03,1.32],
[229,.08,.22,.38,.58,.82,1.1,1.4],[231,.04,.17,.32,.5,.72,.98,1.26],[233,.06,.2,.37,.56,.8,1.08,1.38],[235,.05,.19,.35,.54,.77,1.04,1.33],[237,.07,.21,.38,.59,.83,1.12,1.42],[239,.03,.16,.32,.51,.74,1.0,1.3],
[241,.06,.2,.36,.55,.78,1.05,1.35,1.65],[243,.05,.18,.34,.53,.76,1.03,1.32,1.62],[245,.08,.23,.4,.61,.86,1.15,1.45],[247,.04,.17,.33,.52,.75,1.02,1.3,1.6],[249,.06,.19,.36,.56,.8,1.08,1.38],[251,.05,.2,.37,.57,.81,1.1,1.4,1.7],
[253,.07,.22,.39,.6,.84,1.12,1.42],[255,.03,.16,.31,.5,.72,.97,1.25,1.55],[257,.06,.2,.36,.55,.78,1.05,1.35,1.65],[259,.05,.18,.34,.53,.76,1.03,1.32],[261,.08,.22,.38,.58,.82,1.1,1.4,1.7],[263,.04,.17,.32,.5,.72,.98,1.26,1.55],
[265,.06,.2,.37,.56,.8,1.08,1.38],[267,.05,.19,.35,.54,.77,1.04,1.33],[269,.07,.21,.38,.59,.83,1.12],[271,.03,.16,.32,.51,.74]
];
const chr11Top = [
[5,8.23],[6.5,8.21],[5,7.14],[5.3,7.1],[5,7.03],[7.2,6.56],[5.1,6.42],[4.8,6.21],[5.3,6.16],[4.7,6.0],[5,5.94],[4.8,5.77],[4.5,5.58],[4.7,5.52],[4,5.48],[5,5.45],[8.5,5.77],[8.2,5.19],
[8,4.43],[8,4.03],[2.5,3.87],[2.7,3.85],[1,3.45],[1.2,3.38],[1,3.1],[2.5,3.03],[2.5,2.9],[2.7,2.84],[8,3.48],[8.3,3.32],[9.7,3.23],[10,3.03],[12.5,3.88],[12,3.68],
[17.9,6.35],[17.4,6.03],[18.7,6.05],[17.4,5.9],[19.4,5.48],[19.2,5.32],[19.4,5.0],[19.2,4.94],[17.4,4.89],[18.9,4.71],[19.4,4.42],[17.4,4.26],[21.4,4.42],[21.4,4.36],[20.9,4.03],[21.1,3.94],
[20.9,3.74],[21.2,3.5],[19.4,3.46],[17.4,3.5],[19.4,3.03],
[26.2,5.0],[26.4,4.94],[27.4,4.87],[26.4,4.71],[26.4,4.58],[26.4,4.45],[24.9,4.14],[26.4,3.97],[26.4,3.9],[33.4,4.63],
[42.9,4.92],[44.4,4.74],[43.7,4.32],[43.4,4.13],[41.4,4.12],[44.9,3.94],[42.6,3.84],[43.9,3.82],[41.4,3.48],[43.4,3.32],[41.9,3.1],
[49.9,4.25],[49.9,4.0],[49.4,3.87],[52.1,3.71],[52.1,3.65],[36.4,3.87],[35.9,3.63],[37.4,3.62],[33.4,3.45],[33.9,3.55],[36.2,3.1],[36.2,2.9],
[70,4.17],[71.1,3.82],[70.1,3.48],[63.8,3.41],[63.6,2.81],[74.8,3.21],[74.8,3.08],[71.3,2.71],[72.1,2.58],
[85.2,5.73],[94.4,6.34],[94.4,5.84],[94.4,5.73],[102.7,5.13],[102.7,4.95],[102.7,4.87],[102.7,4.53],[101.7,3.55],[101.7,3.32],[101.7,2.99],[102.7,2.81],[100.7,2.35],[101.2,2.06],
[83.6,2.81],[86.2,2.82],[85.2,2.45],[84.2,2.19],[112.7,2.92],[114.7,2.79],[113.7,2.1],[119.6,2.97],[120.1,2.58],[119.3,2.45],[119.1,2.19],[93,2.14],[96.2,2.32],
[204.3,6.16],[244.1,5.77],[225.6,5.61],[133.5,4.73],[147.9,4.6],[249.8,4.92],[252.6,4.83],[258.2,4.66],[258.2,4.34],[231.1,4.58],[231.1,3.92],[245.6,4.56],
[225.6,4.29],[225.6,3.97],[226.2,3.9],[225.9,3.65],[225.4,3.42],[225.2,3.02],[224.4,2.95],[224.9,2.74],[255.4,4.01],[263.3,4.0],[263.6,3.95],
[192.7,3.81],[192.7,3.37],[192.9,3.33],[194.2,3.18],[189.1,2.92],[192.7,2.87],[192.9,2.74],[194,2.56],[147.1,3.88],[147.1,3.59],[151,3.59],[150.4,3.25],[147.3,3.14],[149.5,2.92],
[254.4,3.57],[162,3.43],[162,2.77],[206,3.46],[204,3.35],[244.2,3.43],[244.4,3.29],[251.3,3.4],[251.5,3.26],[251.5,3.13],[252.8,2.97],[235.2,3.42],[232.9,3.26],[232.9,3.13],[232.9,3.0],
[231.6,2.81],[262.3,3.06],[168.8,2.97],[142.2,3.02],[145.3,2.94],[134.7,2.81],[268.9,2.81],[126.2,2.54],[202.2,2.9],[202.2,2.68],
[10.5,2.7],[11.5,2.5],[13,2.6],[14.5,2.9],[15.5,2.4],[16.5,2.2],[18,2.5],[19,2.3],[20,2.0],[22,2.6],[23,2.4],[24.5,2.2],[26,2.9],[27.5,2.55],[28.5,2.3],[30,2.6],[31,2.1],[32,2.45],
[33,2.3],[35,2.4],[37.5,2.2],[39,2.05],[40.5,2.3],[42,2.6],[43.5,2.4],[45,2.9],[46,2.5],[47.5,2.7],[48.5,2.3],[50,2.55],[52,2.3],[53.5,2.1],[60,2.2],[64,2.5],[66,2.3],[68.5,2.6],
[72.5,2.4],[76,2.2],[78,1.9],[80.5,2.3],
[128,2.4],[131,2.2],[136,2.5],[139,2.3],[141,2.1],[144,2.6],[153,2.4],[156,2.2],[158,2.7],[165,2.3],[171,2.5],[175,2.2],[178,2.0],[181,2.6],[186,2.3],[190,2.5],[196,2.7],[199,2.3],
[203,2.6],[207,2.4],[210,2.2],[213,2.5],[217,2.3],[220,2.6],[223,2.8],[228,2.5],[236,2.6],[239,2.4],[242,2.7],[247,2.5],[250,2.8],[254,2.6],[257,2.9],[260,2.5],[265,2.6],[267,2.9],[270,2.4]
];

// significance threshold, highlighted regions and candidate genes
const threshold = 6.5;
const chr1Regions = [172.0, 190.9];
const chr2Regions = [128.3, 140.1];
const chr5Regions = [];
const chr11Regions = [1.7, 3.2];
const chr2Genes = [138.8, 139.9, 146.7];
const chr5Genes = [242.4];
const chr1XTicks = [0,50,100,150,200,250,300];
const chr2XTicks = [0,20,40,60,80,100,120,140,160,180];
const chr5XTicks = [0,50,100,150,200,250];
const chr11XTicks = [0,50,100,150,200,250];
const chr1YTicks = [0,2,4,6,8];
const chr2YTicks = [0,1,2,3,4,5,6,7];
const chr5YTicks = [0,2,4,6,8,10,12];
const chr11YTicks = [0,2,4,6,8];

// ---------- CHART ----------
function cols(...sets) { const out = []; sets.forEach(s => s.forEach(c => { for (let i = 1; i < c.length; i++) out.push([c[0], c[i]]); })); return out; }

const el = document.getElementById('c');
const SX = (window.innerWidth || 4550) / 4550;
const SY = (window.innerHeight || 3151) / 3151;
const SF = Math.sqrt(SX * SY);
const X = v => v * SX, Y = v => v * SY, F = v => v * SF;
const FONT = "'Liberation Serif','Times New Roman',serif";
const NAVY = '#19197f';
const panels = [
  {title:'Chr. 1 (Mb)', data:cols(chr1Cols, chr1Fill).concat(chr1Top), box:[202,184,2041,1265], x:[-13.0,345.7], y:[-0.37,9.35], xt:chr1XTicks, yt:chr1YTicks, reg:chr1Regions, genes:[], tx:95, ty:1527},
  {title:'Chr. 2 (Mb)', data:cols(chr2Cols, chr2Fill).concat(chr2Top), box:[2493,188,2044,1265], x:[-6.87,184.5], y:[-0.28,7.28], xt:chr2XTicks, yt:chr2YTicks, reg:chr2Regions, genes:chr2Genes, tx:2374, ty:1530},
  {title:'Chr. 5 (Mb)', data:cols(chr5Cols, chr5Fill).concat(chr5Top), box:[201,1763,2050,1276], x:[-9.2,259.8], y:[-0.48,12.53], xt:chr5XTicks, yt:chr5YTicks, reg:chr5Regions, genes:chr5Genes, tx:95, ty:3108},
  {title:'Chr. 11 (Mb)', data:cols(chr11Cols, chr11Fill).concat(chr11Top), box:[2491,1762,2035,1264], x:[-9.5,280.4], y:[-0.336,9.354], xt:chr11XTicks, yt:chr11YTicks, reg:chr11Regions, genes:[], tx:2385, ty:3100}
];

const chart = echarts.init(el, null, {renderer:'canvas'});
const graphics = [];
panels.forEach(p => {
  graphics.push({type:'text', x:X(p.tx), y:Y(p.ty), style:{text:p.title, font:F(71) + "px " + FONT, fill:'#000', align:'left', verticalAlign:'middle'}});
  graphics.push({type:'text', x:X(p.box[0]-150), y:Y(p.box[1]+p.box[3]/2), rotation:Math.PI/2,
    style:{text:'{a|-log}{s|10}{a|(}{i|P}{a|)}', fill:'#000', align:'center', verticalAlign:'middle',
      rich:{a:{fontSize:F(70), fontFamily:FONT, lineHeight:F(100), verticalAlign:'middle'},
            i:{fontSize:F(70), fontFamily:FONT, fontStyle:'italic', lineHeight:F(100), verticalAlign:'middle'},
            s:{fontSize:F(46), fontFamily:FONT, lineHeight:F(46), verticalAlign:'bottom'}}}});
});
const geneFont = "italic " + F(66) + "px " + FONT;
graphics.push({type:'text', x:X(3760), y:Y(93), style:{text:'WRKY71, MEI-like 5, AG', font:geneFont, fill:'#000', align:'center', verticalAlign:'middle'}});
graphics.push({type:'text', x:X(4145), y:Y(30), style:{text:'WOX9', font:geneFont, fill:'#000', align:'center', verticalAlign:'middle'}});
graphics.push({type:'text', x:X(2121), y:Y(1672), style:{text:'SP5G', font:geneFont, fill:'#000', align:'center', verticalAlign:'middle'}});

const option = {
  animation:false,
  backgroundColor:'#fff',
  grid: panels.map(p => ({left:X(p.box[0]), top:Y(p.box[1]), width:X(p.box[2]), height:Y(p.box[3]), show:true, borderColor:'#4a4a4a', borderWidth:F(3), backgroundColor:'transparent'})),
  xAxis: panels.map((p,i) => ({type:'value', gridIndex:i, min:p.x[0], max:p.x[1],
    axisLine:{show:false, onZero:false}, splitLine:{show:false},
    axisTick:{show:true, length:Y(28), lineStyle:{color:'#222', width:F(3)}, customValues:p.xt},
    axisLabel:{customValues:p.xt.slice(1), margin:Y(52), fontSize:F(54), fontFamily:FONT, color:'#000'}})),
  yAxis: panels.map((p,i) => ({type:'value', gridIndex:i, min:p.y[0], max:p.y[1],
    axisLine:{show:false, onZero:false}, splitLine:{show:false},
    axisTick:{show:true, length:X(26), lineStyle:{color:'#222', width:F(3)}, customValues:p.yt},
    axisLabel:{customValues:p.yt, rotate:90, margin:X(44), fontSize:F(54), fontFamily:FONT, color:'#000'}})),
  series: panels.map((p,i) => ({
    type:'scatter', xAxisIndex:i, yAxisIndex:i, data:p.data, symbol:'circle', symbolSize:F(19),
    itemStyle:{color:'rgba(0,0,0,0)', borderColor:NAVY, borderWidth:F(4)},
    silent:true, progressive:0, large:false, clip:false, animation:false,
    markLine:{silent:true, symbol:['none','none'], label:{show:false}, animation:false,
      data:[{yAxis:threshold, lineStyle:{color:'#86c986', width:F(4), type:'solid'}}]
        .concat(p.reg.map(v => ({xAxis:v, lineStyle:{color:'#f08a8a', width:F(3), type:[Y(18),Y(10)]}})))},
    markPoint:{silent:true, animation:false, label:{show:false}, symbol:'triangle', symbolRotate:180,
      symbolSize:[X(44),Y(55)], symbolOffset:[0,-Y(27)], itemStyle:{color:'#1fae4f'},
      data:p.genes.map(g => ({coord:[g, p.y[1]]}))}
  })),
  graphic: graphics
};
chart.setOption(option);
</script>
</body></html>
